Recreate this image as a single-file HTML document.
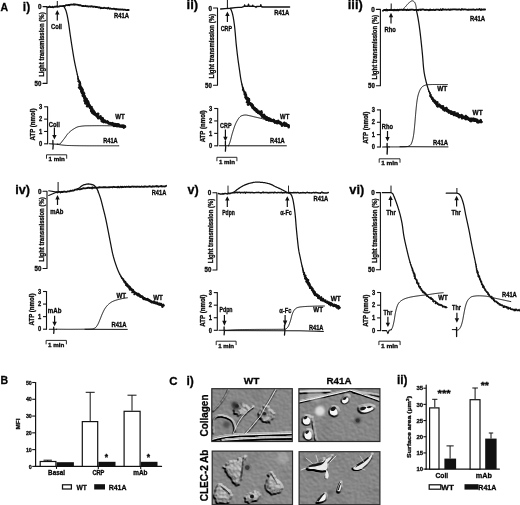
<!DOCTYPE html>
<html><head><meta charset="utf-8"><style>
html,body{margin:0;padding:0;background:#fff;}
svg{display:block;will-change:transform;}
text{font-family:"Liberation Sans", sans-serif;stroke:#111;stroke-width:0.32px;}
</style></head><body>
<svg width="520" height="505" viewBox="0 0 520 505">
<rect width="520" height="505" fill="#fff"/>
<defs><filter id="bl" x="-10%" y="-10%" width="120%" height="120%"><feGaussianBlur stdDeviation="0.4"/></filter><filter id="bl2" x="-50%" y="-50%" width="200%" height="200%"><feGaussianBlur stdDeviation="1.3"/></filter><filter id="dc1" filterUnits="userSpaceOnUse" x="211.8" y="388.7" width="80.5" height="52.8" color-interpolation-filters="sRGB">
<feGaussianBlur in="SourceAlpha" stdDeviation="0.7" result="h0"/>
<feTurbulence type="fractalNoise" baseFrequency="0.32" numOctaves="2" seed="3" result="n"/>
<feColorMatrix in="n" type="matrix" values="0 0 0 0 0  0 0 0 0 0  0 0 0 0 0  1 0 0 0 0" result="na"/>
<feComposite in="h0" in2="na" operator="arithmetic" k1="0.9" k2="0.75" k3="0.1" k4="0" result="h"/>
<feDiffuseLighting in="h" surfaceScale="2.0" diffuseConstant="1" lighting-color="#cacaca" result="lit"><feDistantLight azimuth="300" elevation="42"/></feDiffuseLighting>
<feTurbulence type="fractalNoise" baseFrequency="0.06" numOctaves="2" seed="10" result="m"/>
<feColorMatrix in="m" type="matrix" values="0.2 0 0 0 0.9  0.2 0 0 0 0.9  0.2 0 0 0 0.9  0 0 0 0 1" result="mg"/>
<feBlend in="lit" in2="mg" mode="multiply"/>
</filter><clipPath id="c1"><rect x="211.8" y="388.7" width="80.5" height="52.8"/></clipPath><filter id="dc2" filterUnits="userSpaceOnUse" x="298.9" y="388.7" width="81" height="52.8" color-interpolation-filters="sRGB">
<feGaussianBlur in="SourceAlpha" stdDeviation="0.7" result="h0"/>
<feTurbulence type="fractalNoise" baseFrequency="0.32" numOctaves="2" seed="5" result="n"/>
<feColorMatrix in="n" type="matrix" values="0 0 0 0 0  0 0 0 0 0  0 0 0 0 0  1 0 0 0 0" result="na"/>
<feComposite in="h0" in2="na" operator="arithmetic" k1="0.9" k2="0.75" k3="0.1" k4="0" result="h"/>
<feDiffuseLighting in="h" surfaceScale="2.0" diffuseConstant="1" lighting-color="#cacaca" result="lit"><feDistantLight azimuth="300" elevation="42"/></feDiffuseLighting>
<feTurbulence type="fractalNoise" baseFrequency="0.06" numOctaves="2" seed="12" result="m"/>
<feColorMatrix in="m" type="matrix" values="0.2 0 0 0 0.9  0.2 0 0 0 0.9  0.2 0 0 0 0.9  0 0 0 0 1" result="mg"/>
<feBlend in="lit" in2="mg" mode="multiply"/>
</filter><clipPath id="c2"><rect x="298.9" y="388.7" width="81" height="52.8"/></clipPath><filter id="dc3" filterUnits="userSpaceOnUse" x="212.2" y="451.1" width="80.3" height="53.6" color-interpolation-filters="sRGB">
<feGaussianBlur in="SourceAlpha" stdDeviation="0.7" result="h0"/>
<feTurbulence type="fractalNoise" baseFrequency="0.32" numOctaves="2" seed="8" result="n"/>
<feColorMatrix in="n" type="matrix" values="0 0 0 0 0  0 0 0 0 0  0 0 0 0 0  1 0 0 0 0" result="na"/>
<feComposite in="h0" in2="na" operator="arithmetic" k1="0.9" k2="0.75" k3="0.1" k4="0" result="h"/>
<feDiffuseLighting in="h" surfaceScale="2.0" diffuseConstant="1" lighting-color="#cecece" result="lit"><feDistantLight azimuth="300" elevation="42"/></feDiffuseLighting>
<feTurbulence type="fractalNoise" baseFrequency="0.06" numOctaves="2" seed="15" result="m"/>
<feColorMatrix in="m" type="matrix" values="0.2 0 0 0 0.9  0.2 0 0 0 0.9  0.2 0 0 0 0.9  0 0 0 0 1" result="mg"/>
<feBlend in="lit" in2="mg" mode="multiply"/>
</filter><clipPath id="c3"><rect x="212.2" y="451.1" width="80.3" height="53.6"/></clipPath><filter id="dc4" filterUnits="userSpaceOnUse" x="299.1" y="451.7" width="80.8" height="53" color-interpolation-filters="sRGB">
<feGaussianBlur in="SourceAlpha" stdDeviation="0.7" result="h0"/>
<feTurbulence type="fractalNoise" baseFrequency="0.32" numOctaves="2" seed="11" result="n"/>
<feColorMatrix in="n" type="matrix" values="0 0 0 0 0  0 0 0 0 0  0 0 0 0 0  1 0 0 0 0" result="na"/>
<feComposite in="h0" in2="na" operator="arithmetic" k1="0.9" k2="0.75" k3="0.1" k4="0" result="h"/>
<feDiffuseLighting in="h" surfaceScale="2.0" diffuseConstant="1" lighting-color="#cacaca" result="lit"><feDistantLight azimuth="300" elevation="42"/></feDiffuseLighting>
<feTurbulence type="fractalNoise" baseFrequency="0.06" numOctaves="2" seed="18" result="m"/>
<feColorMatrix in="m" type="matrix" values="0.2 0 0 0 0.9  0.2 0 0 0 0.9  0.2 0 0 0 0.9  0 0 0 0 1" result="mg"/>
<feBlend in="lit" in2="mg" mode="multiply"/>
</filter><clipPath id="c4"><rect x="299.1" y="451.7" width="80.8" height="53"/></clipPath></defs>
<text x="0.5" y="10.5" font-size="11.5" font-weight="bold" textLength="7.6" lengthAdjust="spacingAndGlyphs">A</text>
<text x="22.8" y="10.8" font-size="13" font-weight="bold" textLength="7.4" lengthAdjust="spacingAndGlyphs">i)</text>
<text x="186.6" y="9.2" font-size="13" font-weight="bold" textLength="11.6" lengthAdjust="spacingAndGlyphs">ii)</text>
<text x="347.8" y="9.2" font-size="13" font-weight="bold" textLength="15" lengthAdjust="spacingAndGlyphs">iii)</text>
<text x="15.2" y="194.4" font-size="13" font-weight="bold" textLength="14.8" lengthAdjust="spacingAndGlyphs">iv)</text>
<text x="187.4" y="194.4" font-size="13" font-weight="bold" textLength="11.2" lengthAdjust="spacingAndGlyphs">v)</text>
<text x="349.3" y="194.4" font-size="13" font-weight="bold" textLength="14.9" lengthAdjust="spacingAndGlyphs">vi)</text>
<polyline points="43,6.6 47,6.6 47,83.4 43,83.4" fill="none" stroke="#111" stroke-width="1.1" stroke-linejoin="round" stroke-linecap="round"/>
<text x="41.4" y="9.1" font-size="6.3" font-weight="bold" text-anchor="end">0</text>
<text x="41.4" y="85.6" font-size="6.3" font-weight="bold" text-anchor="end" textLength="6.8" lengthAdjust="spacingAndGlyphs">50</text>
<text x="43.6" y="44.6" font-size="6.8" font-weight="bold" text-anchor="middle" textLength="64.5" lengthAdjust="spacingAndGlyphs" transform="rotate(-90 43.6 44.6)">Light transmission (%)</text>
<polyline points="47.6,106.8 47.6,143.8" fill="none" stroke="#111" stroke-width="1.1" stroke-linejoin="round" stroke-linecap="round"/>
<line x1="44.1" y1="143.8" x2="47.6" y2="143.8" stroke="#111" stroke-width="1.1"/>
<text x="42.2" y="146" font-size="6.3" font-weight="bold" text-anchor="end" textLength="3.2" lengthAdjust="spacingAndGlyphs">0</text>
<line x1="44.1" y1="131.47" x2="47.6" y2="131.47" stroke="#111" stroke-width="1.1"/>
<text x="42.2" y="133.67" font-size="6.3" font-weight="bold" text-anchor="end" textLength="3.2" lengthAdjust="spacingAndGlyphs">1</text>
<line x1="44.1" y1="119.13" x2="47.6" y2="119.13" stroke="#111" stroke-width="1.1"/>
<text x="42.2" y="121.33" font-size="6.3" font-weight="bold" text-anchor="end" textLength="3.2" lengthAdjust="spacingAndGlyphs">2</text>
<line x1="44.1" y1="106.8" x2="47.6" y2="106.8" stroke="#111" stroke-width="1.1"/>
<text x="42.2" y="109" font-size="6.3" font-weight="bold" text-anchor="end" textLength="3.2" lengthAdjust="spacingAndGlyphs">3</text>
<text x="35.4" y="124.5" font-size="6.3" font-weight="bold" text-anchor="middle" textLength="32" lengthAdjust="spacingAndGlyphs" transform="rotate(-90 35.4 124.5)">ATP (nmol)</text>
<line x1="57.3" y1="1" x2="57.3" y2="7.5" stroke="#111" stroke-width="1.0"/>
<line x1="57.3" y1="13.9" x2="57.3" y2="20.6" stroke="#111" stroke-width="1.2"/>
<path d="M57.3,10 L55.1,14.4 L59.5,14.4Z" fill="#111"/>
<text x="56.5" y="29.3" font-size="6.7" font-weight="bold" text-anchor="middle" textLength="11" lengthAdjust="spacingAndGlyphs">Coll</text>
<polyline points="47.5,7.39 48.21,7.23 48.91,7.02 49.62,6.51 50.33,7.02 51.04,7.18 51.74,7.14 52.45,6.68 53.16,7.31 53.87,7.18 54.57,6.58 55.28,6.54 55.99,6.77 56.7,6.42 57.41,6.49 58.12,6.7 58.83,6.65 59.54,6.18 60.25,6.16 60.96,6.09 61.67,6.17 62.38,6.14 63.08,5.97 63.79,6.19 64.49,5.93 65.19,5.81 65.89,5.18 66.59,5.17 67.29,5.18 67.99,5.27 68.69,4.8 69.39,5.25 70.09,4.75 70.79,4.66 71.49,4.52 72.19,4.55 72.89,4.63 73.59,4.27 74.29,4.83 75,4.28 75.7,4.67 76.41,4.56 77.11,4.66 77.81,4.97 78.52,4.95 79.23,5.42 79.93,5 80.64,5.38 81.34,5.51 82.05,6.01 82.75,5.99 83.46,5.87 84.17,6.21 84.87,6.1 85.58,5.77 86.28,6.13 86.99,6.43 87.7,6.07 88.4,6.66 89.11,6.45 89.81,6.28 90.52,6.63 91.23,6.2 91.93,6.49 92.64,6.48 93.35,6.94 94.05,6.63 94.76,6.57 95.47,7.11 96.17,6.99 96.88,7 97.59,7.1 98.29,7.59 99,7.44 99.71,7.28 100.41,8.24 101.12,7.74 101.83,8.17 102.54,8.02 103.24,8.17 103.95,7.68 104.66,7.83 105.36,8.21 106.07,8.1 106.78,8.21 107.48,8.53 108.19,7.75 108.9,8.32 109.6,8.85 110.31,8.42 111.02,8.62 111.73,8.78 112.43,8.83 113.14,8.9 113.85,8.65 114.55,9.04 115.26,8.87 115.97,9.49 116.68,9.01 117.38,9.29 118.09,9.25 118.8,9.65 119.5,9.47 120.21,9.68 120.92,9.43 121.63,9.54 122.33,9.47 123.04,9.73 123.75,9.77 124.46,9.62 125.16,9.66 125.87,10.08 126.58,10.06 127.29,9.99 127.99,10 128.7,10.02" fill="none" stroke="#111" stroke-width="1.8" stroke-linejoin="round" stroke-linecap="round"/>
<text x="121.5" y="18.3" font-size="6.7" font-weight="bold" text-anchor="middle" textLength="15" lengthAdjust="spacingAndGlyphs">R41A</text>
<polyline points="63.8,6.3 64.16,6.92 64.5,7.54 64.84,8.17 65.16,8.8 65.46,9.44 65.73,10.08 65.98,10.73 66.19,11.39 66.39,12.06 66.57,12.73 66.74,13.41 66.91,14.09 67.07,14.78 67.21,15.47 67.36,16.16 67.49,16.86 67.62,17.56 67.75,18.26 67.88,18.95 68,19.65 68.12,20.35 68.24,21.04 68.36,21.73 68.47,22.43 68.58,23.12 68.69,23.82 68.79,24.51 68.89,25.21 68.99,25.91 69.09,26.61 69.19,27.3 69.28,28 69.37,28.7 69.47,29.4 69.56,30.1 69.65,30.8 69.75,31.49 69.84,32.19 69.94,32.89 70.04,33.59 70.14,34.28 70.24,34.98 70.34,35.68 70.45,36.37 70.55,37.07 70.65,37.77 70.76,38.46 70.86,39.16 70.97,39.86 71.07,40.55 71.18,41.25 71.28,41.95 71.39,42.64 71.49,43.34 71.6,44.03 71.71,44.73 71.82,45.43 71.92,46.12 72.03,46.82 72.14,47.51 72.25,48.21 72.36,48.9 72.48,49.6 72.59,50.29 72.7,50.99 72.81,51.69 72.92,52.38 73.03,53.08 73.15,53.77 73.26,54.47 73.37,55.16 73.49,55.86 73.61,56.55 73.73,57.25 73.85,57.94 73.97,58.63 74.09,59.33 74.22,60.02 74.35,60.71 74.48,61.4 74.61,62.09 74.75,62.78 74.89,63.47 75.03,64.16 75.17,64.85 75.32,65.54 75.47,66.23 75.62,66.92 75.77,67.61 75.92,68.29 76.07,68.98 76.23,69.67 76.38,70.36 76.53,71.04 76.68,71.73 76.84,72.42 76.99,73.11 77.15,73.79 77.31,74.48" fill="none" stroke="#111" stroke-width="1.25" stroke-linejoin="round" stroke-linecap="round"/>
<polyline points="77.31,74.48 77.37,74.83 77.43,75.17 77.57,75.5 77.64,75.84 77.74,76.18 77.74,76.54" fill="none" stroke="#111" stroke-width="1.25" stroke-linejoin="round" stroke-linecap="round"/>
<polyline points="77.74,76.54 77.88,76.87 77.87,77.23 77.99,77.56 77.91,77.94 78.22,78.23 78.18,78.6" fill="none" stroke="#111" stroke-width="1.47" stroke-linejoin="round" stroke-linecap="round"/>
<polyline points="78.18,78.6 78.02,79 78.13,79.34 78.46,79.62 78.46,79.98 78.77,80.26 78.85,80.6" fill="none" stroke="#111" stroke-width="1.68" stroke-linejoin="round" stroke-linecap="round"/>
<polyline points="78.85,80.6 78.18,81.14 78.64,81.38 79.51,81.51 79.06,82 79.47,82.25 79.97,82.48" fill="none" stroke="#111" stroke-width="1.9" stroke-linejoin="round" stroke-linecap="round"/>
<polyline points="79.97,82.48 79.72,82.91 79.71,83.28 80.07,83.54 80.29,83.84 79.82,84.34 79.58,84.77" fill="none" stroke="#111" stroke-width="2.12" stroke-linejoin="round" stroke-linecap="round"/>
<polyline points="79.58,84.77 80.12,84.98 79.52,85.53 80.06,85.73 80.01,86.11 80.57,86.31 80.28,86.77" fill="none" stroke="#111" stroke-width="2.34" stroke-linejoin="round" stroke-linecap="round"/>
<polyline points="80.28,86.77 79.07,87.52 80.86,87.32 81.28,87.55 80.79,88.08 80.95,88.4 80.62,88.88" fill="none" stroke="#111" stroke-width="2.56" stroke-linejoin="round" stroke-linecap="round"/>
<polyline points="80.62,88.88 81.98,88.79 81.77,89.23 81.97,89.53 82.56,89.69 81.71,90.36 81.62,90.77" fill="none" stroke="#111" stroke-width="2.7" stroke-linejoin="round" stroke-linecap="round"/>
<polyline points="81.62,90.77 82.4,90.86 81.43,91.6 81.84,91.82 82.07,92.11 82.31,92.39 82.16,92.83" fill="none" stroke="#111" stroke-width="2.7" stroke-linejoin="round" stroke-linecap="round"/>
<polyline points="82.16,92.83 83.46,92.69 82.6,93.41 82.73,93.74 84.07,93.56 83.13,94.33 83.57,94.53" fill="none" stroke="#111" stroke-width="2.7" stroke-linejoin="round" stroke-linecap="round"/>
<polyline points="83.57,94.53 83.19,95.07 82.84,95.61 83.87,95.54 83.84,95.95 84.59,95.99 84,96.65" fill="none" stroke="#111" stroke-width="2.7" stroke-linejoin="round" stroke-linecap="round"/>
<polyline points="84,96.65 84.5,96.8 84.36,97.26 85.01,97.33 84.37,98.04 84.77,98.23 85.31,98.35" fill="none" stroke="#111" stroke-width="2.7" stroke-linejoin="round" stroke-linecap="round"/>
<polyline points="85.31,98.35 85.07,98.87 86,98.78 84.83,99.79 86.63,99.24 84.54,100.75 85.97,100.38" fill="none" stroke="#111" stroke-width="2.7" stroke-linejoin="round" stroke-linecap="round"/>
<polyline points="85.97,100.38 86.41,100.55 87.02,100.62 86.09,101.52 87.48,101.16 86.76,101.95 85.52,103.04" fill="none" stroke="#111" stroke-width="2.7" stroke-linejoin="round" stroke-linecap="round"/>
<polyline points="85.52,103.04 88.15,101.99 87.69,102.64 88.35,102.68 87.77,103.4 87.33,104.05 88.31,103.91" fill="none" stroke="#111" stroke-width="2.7" stroke-linejoin="round" stroke-linecap="round"/>
<polyline points="88.31,103.91 88.19,104.37 88.84,104.42 88.39,105.06 87.08,106.19 88.87,105.6 89.6,105.6" fill="none" stroke="#111" stroke-width="2.7" stroke-linejoin="round" stroke-linecap="round"/>
<polyline points="89.6,105.6 89.27,106.18 89.59,106.4 89.86,106.66 90.29,106.81 89.93,107.43 90.15,107.71" fill="none" stroke="#111" stroke-width="2.7" stroke-linejoin="round" stroke-linecap="round"/>
<polyline points="90.15,107.71 91.55,107.26 90.76,108.15 91.44,108.14 91.26,108.66 91.68,108.8 91.51,109.33" fill="none" stroke="#111" stroke-width="2.7" stroke-linejoin="round" stroke-linecap="round"/>
<polyline points="91.51,109.33 92.27,109.23 91.23,110.4 91.8,110.43 91.33,111.24 92.44,110.83 92.88,110.92" fill="none" stroke="#111" stroke-width="2.7" stroke-linejoin="round" stroke-linecap="round"/>
<polyline points="92.88,110.92 93.52,110.85 92.57,112.09 92.29,112.82 93.93,111.85 94.09,112.17 93.82,112.89" fill="none" stroke="#111" stroke-width="2.7" stroke-linejoin="round" stroke-linecap="round"/>
<polyline points="93.82,112.89 94.63,112.61 93.78,113.92 94.92,113.3 94.96,113.76 94.86,114.36 95.53,114.18" fill="none" stroke="#111" stroke-width="2.7" stroke-linejoin="round" stroke-linecap="round"/>
<polyline points="95.53,114.18 95.44,114.78 96.2,114.49 97,114.14 97.35,114.26 98.16,113.87 96.79,115.93" fill="none" stroke="#111" stroke-width="2.7" stroke-linejoin="round" stroke-linecap="round"/>
<polyline points="96.79,115.93 97.56,115.59 97.41,116.3 97.69,116.52 97.68,117.07 98.14,117.08 98.34,117.39" fill="none" stroke="#111" stroke-width="2.7" stroke-linejoin="round" stroke-linecap="round"/>
<polyline points="98.34,117.39 98.25,118.07 99.48,117.1 100.51,116.35 99.95,117.62 100.45,117.56 100.53,118.02" fill="none" stroke="#111" stroke-width="2.7" stroke-linejoin="round" stroke-linecap="round"/>
<polyline points="100.53,118.02 100.65,118.43 100.82,118.79 101.3,118.74 102.09,118.24 101.78,119.27 102.66,118.61" fill="none" stroke="#111" stroke-width="2.7" stroke-linejoin="round" stroke-linecap="round"/>
<polyline points="102.66,118.61 102,120.19 101.78,121.17 103.11,119.79 103.43,119.94 102.93,121.41 103.6,121" fill="none" stroke="#111" stroke-width="2.7" stroke-linejoin="round" stroke-linecap="round"/>
<polyline points="103.6,121 103.61,121.7 103.85,122.02 104.94,120.77 104.94,121.52 105.24,121.72 105.53,121.92" fill="none" stroke="#111" stroke-width="2.7" stroke-linejoin="round" stroke-linecap="round"/>
<polyline points="105.53,121.92 105.86,122.06 106.26,122.04 106.59,122.16 107.26,121.44 107.31,122.25 107.75,122.08" fill="none" stroke="#111" stroke-width="2.7" stroke-linejoin="round" stroke-linecap="round"/>
<polyline points="107.75,122.08 107.9,122.66 108.34,122.47 108.47,123.15 108.77,123.37 109.2,123.22 109.53,123.33" fill="none" stroke="#111" stroke-width="2.7" stroke-linejoin="round" stroke-linecap="round"/>
<polyline points="109.53,123.33 109.9,123.32 110.33,123.15 110.61,123.4 111,123.33 111.2,123.89 111.59,123.79" fill="none" stroke="#111" stroke-width="2.7" stroke-linejoin="round" stroke-linecap="round"/>
<polyline points="111.59,123.79 111.85,124.19 112.47,123.28 112.48,124.54 113.06,123.76 113.39,123.87 113.65,124.25" fill="none" stroke="#111" stroke-width="2.7" stroke-linejoin="round" stroke-linecap="round"/>
<polyline points="113.65,124.25 114.04,124.14 113.95,125.86 114.72,124.32 115.13,124.14 115.43,124.35 115.49,125.59" fill="none" stroke="#111" stroke-width="2.7" stroke-linejoin="round" stroke-linecap="round"/>
<polyline points="115.49,125.59 115.99,124.99 116.49,124.43 116.68,125.14 117.21,124.37 117.16,126.25 117.88,124.53" fill="none" stroke="#111" stroke-width="2.7" stroke-linejoin="round" stroke-linecap="round"/>
<polyline points="117.88,124.53 118,125.68 118.34,125.79 118.88,124.77 119.06,125.78 119.35,126.21 119.74,125.98" fill="none" stroke="#111" stroke-width="2.7" stroke-linejoin="round" stroke-linecap="round"/>
<polyline points="119.74,125.98 120.11,125.93 120.39,126.36 120.81,125.98 121.14,126.13 121.53,125.93 121.82,126.39" fill="none" stroke="#111" stroke-width="2.7" stroke-linejoin="round" stroke-linecap="round"/>
<polyline points="121.82,126.39 122.28,125.58 122.5,126.57 122.94,125.91 123.32,125.63 123.58,126.46 123.86,127.23" fill="none" stroke="#111" stroke-width="2.7" stroke-linejoin="round" stroke-linecap="round"/>
<polyline points="123.86,127.23 124.25,126.86 124.68,126.09 124.97,126.78" fill="none" stroke="#111" stroke-width="2.7" stroke-linejoin="round" stroke-linecap="round"/>
<text x="120" y="119" font-size="6.7" font-weight="bold" text-anchor="middle" textLength="9.5" lengthAdjust="spacingAndGlyphs">WT</text>
<polyline points="49.2,143.7 57.3,144.2" fill="none" stroke="#111" stroke-width="1.1" stroke-linejoin="round" stroke-linecap="round"/>
<polyline points="52.9,140.5 52.9,144 53.2,145 52.9,149" fill="none" stroke="#111" stroke-width="1.3" stroke-linejoin="round" stroke-linecap="round"/>
<polyline points="57.3,144.2 58.05,144.2 58.74,144.2 59.34,144.12 59.91,143.86 60.45,143.45 60.97,142.93 61.46,142.33 61.95,141.68 62.42,141.02 62.89,140.37 63.35,139.77 63.81,139.23 64.26,138.67 64.68,138.1 65.1,137.51 65.51,136.92 65.91,136.32 66.32,135.73 66.74,135.15 67.17,134.58 67.62,134.04 68.09,133.51 68.58,133.01 69.09,132.5 69.61,132.01 70.15,131.53 70.7,131.06 71.27,130.61 71.84,130.19 72.42,129.78 73.01,129.4 73.61,129.02 74.23,128.63 74.86,128.25 75.49,127.88 76.14,127.54 76.8,127.23 77.46,126.97 78.13,126.75 78.8,126.6 79.48,126.48 80.17,126.37 80.87,126.27 81.58,126.17 82.29,126.08 83.01,126.01 83.73,125.94 84.45,125.89 85.17,125.84 85.89,125.81 86.6,125.8 87.32,125.79 88.03,125.78 88.74,125.77 89.45,125.76 90.17,125.75 90.88,125.75 91.59,125.74 92.31,125.73 93.02,125.73 93.74,125.72 94.45,125.72 95.16,125.71 95.88,125.71 96.59,125.71 97.31,125.7 98.02,125.7 98.73,125.7 99.45,125.7 100.16,125.7 100.88,125.7 101.59,125.7 102.3,125.7 103.02,125.71 103.73,125.71 104.44,125.71 105.16,125.72 105.87,125.72 106.58,125.73 107.3,125.73 108.01,125.74 108.72,125.75 109.44,125.76 110.15,125.76 110.86,125.77 111.58,125.78 112.29,125.79 113.01,125.81 113.72,125.82 114.43,125.83 115.15,125.84 115.86,125.86 116.57,125.87 117.29,125.88 118,125.9" fill="none" stroke="#111" stroke-width="1.0" stroke-linejoin="round" stroke-linecap="round"/>
<polyline points="57.3,144.2 58,144.34 58.71,144.48 59.41,144.61 60.12,144.74 60.83,144.85 61.53,144.94 62.24,145.03 62.95,145.11 63.67,145.18 64.38,145.25 65.09,145.32 65.81,145.38 66.52,145.43 67.24,145.47 67.95,145.5 68.67,145.52 69.38,145.53 70.1,145.55 70.81,145.57 71.53,145.59 72.25,145.6 72.96,145.62 73.68,145.63 74.39,145.65 75.11,145.66 75.83,145.67 76.54,145.69 77.26,145.7 77.97,145.71 78.69,145.72 79.41,145.73 80.12,145.74 80.84,145.75 81.56,145.75 82.27,145.76 82.99,145.77 83.71,145.77 84.42,145.78 85.14,145.78 85.86,145.79 86.57,145.79 87.29,145.8 88,145.8 88.72,145.8 89.44,145.8 90.15,145.8 90.87,145.8 91.59,145.8 92.3,145.8 93.02,145.8 93.73,145.8 94.45,145.8 95.17,145.8 95.88,145.8 96.6,145.8 97.31,145.8 98.03,145.8 98.75,145.8 99.46,145.8 100.18,145.8 100.9,145.8 101.61,145.8 102.33,145.8 103.04,145.8 103.76,145.8 104.48,145.8 105.19,145.8 105.91,145.8 106.62,145.8 107.34,145.8 108.06,145.8 108.77,145.8 109.49,145.8 110.21,145.8 110.92,145.8 111.64,145.8 112.35,145.8 113.07,145.8 113.79,145.8 114.5,145.8 115.22,145.8 115.94,145.8 116.65,145.8 117.37,145.8 118.08,145.8 118.8,145.8" fill="none" stroke="#111" stroke-width="1.0" stroke-linejoin="round" stroke-linecap="round"/>
<line x1="54.4" y1="127.5" x2="54.4" y2="135.6" stroke="#111" stroke-width="1.2"/>
<path d="M54.4,139.5 L52.2,135.1 L56.6,135.1Z" fill="#111"/>
<text x="54.3" y="126.8" font-size="6.7" font-weight="bold" text-anchor="middle" textLength="11" lengthAdjust="spacingAndGlyphs">Coll</text>
<text x="110.4" y="143.3" font-size="6.7" font-weight="bold" text-anchor="middle" textLength="14.5" lengthAdjust="spacingAndGlyphs">R41A</text>
<polyline points="46.5,158.3 46.5,154.8 66.7,154.8 66.7,158.3" fill="none" stroke="#111" stroke-width="0.9" stroke-linejoin="round" stroke-linecap="round"/>
<text x="56.6" y="161.4" font-size="5.8" font-weight="bold" text-anchor="middle" textLength="16.2" lengthAdjust="spacingAndGlyphs">1 min</text>
<polyline points="213.5,8 217.5,8 217.5,85.3 213.5,85.3" fill="none" stroke="#111" stroke-width="1.1" stroke-linejoin="round" stroke-linecap="round"/>
<text x="211.9" y="10.5" font-size="6.3" font-weight="bold" text-anchor="end">0</text>
<text x="211.9" y="87.5" font-size="6.3" font-weight="bold" text-anchor="end" textLength="6.8" lengthAdjust="spacingAndGlyphs">50</text>
<text x="214.1" y="46.25" font-size="6.8" font-weight="bold" text-anchor="middle" textLength="64.5" lengthAdjust="spacingAndGlyphs" transform="rotate(-90 214.1 46.25)">Light transmission (%)</text>
<polyline points="217.7,108.5 217.7,145.8" fill="none" stroke="#111" stroke-width="1.1" stroke-linejoin="round" stroke-linecap="round"/>
<line x1="214.2" y1="145.8" x2="217.7" y2="145.8" stroke="#111" stroke-width="1.1"/>
<text x="212.3" y="148" font-size="6.3" font-weight="bold" text-anchor="end" textLength="3.2" lengthAdjust="spacingAndGlyphs">0</text>
<line x1="214.2" y1="133.37" x2="217.7" y2="133.37" stroke="#111" stroke-width="1.1"/>
<text x="212.3" y="135.57" font-size="6.3" font-weight="bold" text-anchor="end" textLength="3.2" lengthAdjust="spacingAndGlyphs">1</text>
<line x1="214.2" y1="120.93" x2="217.7" y2="120.93" stroke="#111" stroke-width="1.1"/>
<text x="212.3" y="123.13" font-size="6.3" font-weight="bold" text-anchor="end" textLength="3.2" lengthAdjust="spacingAndGlyphs">2</text>
<line x1="214.2" y1="108.5" x2="217.7" y2="108.5" stroke="#111" stroke-width="1.1"/>
<text x="212.3" y="110.7" font-size="6.3" font-weight="bold" text-anchor="end" textLength="3.2" lengthAdjust="spacingAndGlyphs">3</text>
<text x="205.5" y="126.35" font-size="6.3" font-weight="bold" text-anchor="middle" textLength="32" lengthAdjust="spacingAndGlyphs" transform="rotate(-90 205.5 126.35)">ATP (nmol)</text>
<line x1="227.4" y1="0" x2="227.4" y2="8.5" stroke="#111" stroke-width="1.0"/>
<line x1="227.4" y1="15.4" x2="227.4" y2="22" stroke="#111" stroke-width="1.2"/>
<path d="M227.4,11.5 L225.2,15.9 L229.6,15.9Z" fill="#111"/>
<text x="226.4" y="31.1" font-size="6.7" font-weight="bold" text-anchor="middle" textLength="11.4" lengthAdjust="spacingAndGlyphs">CRP</text>
<polyline points="220.7,9 225,8.6 230.4,8.3 235,7.6 238.5,7.4 242,7.2 243.5,6.6 244.3,6.2 244.6,4.9 245,6.2 248,6.2 248.5,4.2 249,6.2 252.5,6.3 252.8,5.2 253.3,6.3 255.5,6.6 256,7.4 256.5,6.5 260.5,6.4 260.8,4.6 261.3,6.5 262.5,7 275,7 289.6,7" fill="none" stroke="#111" stroke-width="1.4" stroke-linejoin="round" stroke-linecap="round"/>
<text x="281.7" y="15" font-size="6.7" font-weight="bold" text-anchor="middle" textLength="15" lengthAdjust="spacingAndGlyphs">R41A</text>
<polyline points="230.4,8.3 230.69,8.95 230.99,9.6 231.27,10.25 231.54,10.91 231.79,11.57 232.02,12.23 232.23,12.9 232.42,13.57 232.58,14.25 232.74,14.93 232.89,15.61 233.04,16.3 233.17,16.99 233.31,17.69 233.43,18.38 233.55,19.08 233.67,19.78 233.78,20.48 233.88,21.18 233.98,21.89 234.08,22.59 234.18,23.29 234.27,23.99 234.36,24.69 234.45,25.39 234.53,26.09 234.61,26.79 234.69,27.49 234.77,28.19 234.84,28.89 234.91,29.59 234.98,30.29 235.05,30.99 235.11,31.7 235.18,32.4 235.24,33.1 235.3,33.81 235.36,34.51 235.42,35.21 235.48,35.92 235.54,36.62 235.6,37.32 235.66,38.03 235.72,38.73 235.78,39.43 235.84,40.14 235.9,40.84 235.96,41.54 236.03,42.25 236.09,42.95 236.16,43.65 236.23,44.35 236.31,45.06 236.38,45.76 236.45,46.46 236.53,47.16 236.61,47.86 236.68,48.56 236.76,49.26 236.84,49.96 236.92,50.67 237,51.37 237.08,52.07 237.16,52.77 237.24,53.47 237.33,54.17 237.41,54.87 237.5,55.57 237.58,56.27 237.67,56.97 237.76,57.67 237.85,58.37 237.94,59.07 238.03,59.77 238.13,60.47 238.22,61.17 238.32,61.87 238.42,62.56 238.52,63.26 238.62,63.96 238.72,64.66 238.82,65.36 238.92,66.06 239.02,66.75 239.13,67.45 239.23,68.15 239.33,68.85 239.43,69.55 239.54,70.24 239.64,70.94 239.73,71.64 239.83,72.34 239.93,73.04 240.02,73.74 240.12,74.44 240.22,75.14 240.32,75.84 240.43,76.53 240.53,77.23 240.64,77.93 240.76,78.62 240.88,79.32 241,80.01 241.13,80.7 241.27,81.39 241.41,82.09 241.56,82.78 241.71,83.47 241.87,84.16" fill="none" stroke="#111" stroke-width="1.25" stroke-linejoin="round" stroke-linecap="round"/>
<polyline points="241.87,84.16 241.93,84.5 242.01,84.85 242.08,85.19 242.11,85.55 242.36,85.84 242.42,86.19" fill="none" stroke="#111" stroke-width="1.25" stroke-linejoin="round" stroke-linecap="round"/>
<polyline points="242.42,86.19 242.58,86.51 242.56,86.88 242.52,87.25 242.74,87.56 242.76,87.92 243.23,88.15" fill="none" stroke="#111" stroke-width="1.45" stroke-linejoin="round" stroke-linecap="round"/>
<polyline points="243.23,88.15 243,88.58 243.29,88.86 242.88,89.35 242.69,89.79 243.23,89.98 243.57,90.24" fill="none" stroke="#111" stroke-width="1.66" stroke-linejoin="round" stroke-linecap="round"/>
<polyline points="243.57,90.24 243.52,90.63 243.62,90.97 244,91.2 244.17,91.51 244.19,91.88 244.46,92.15" fill="none" stroke="#111" stroke-width="1.86" stroke-linejoin="round" stroke-linecap="round"/>
<polyline points="244.46,92.15 244.6,92.48 245.36,92.55 244.91,93.1 244.52,93.64 245.52,93.61 244.75,94.31" fill="none" stroke="#111" stroke-width="2.06" stroke-linejoin="round" stroke-linecap="round"/>
<polyline points="244.75,94.31 245.44,94.4 245.55,94.74 246.03,94.92 245.66,95.45 245.84,95.75 245.78,96.16" fill="none" stroke="#111" stroke-width="2.26" stroke-linejoin="round" stroke-linecap="round"/>
<polyline points="245.78,96.16 246.26,96.34 246.1,96.79 245.4,97.48 246.23,97.5 246.86,97.6 246.25,98.27" fill="none" stroke="#111" stroke-width="2.46" stroke-linejoin="round" stroke-linecap="round"/>
<polyline points="246.25,98.27 246.94,98.34 247.82,98.29 246.88,99.15 247.53,99.21 248.44,99.12 248.9,99.25" fill="none" stroke="#111" stroke-width="2.6" stroke-linejoin="round" stroke-linecap="round"/>
<polyline points="248.9,99.25 247.58,100.39 248.2,100.43 249.02,100.32 246.95,102.11 248.84,101.25 248.26,102.1" fill="none" stroke="#111" stroke-width="2.6" stroke-linejoin="round" stroke-linecap="round"/>
<polyline points="248.26,102.1 248.3,102.52 248.76,102.63 248.94,102.94 249.19,103.19 247.98,104.62 250.03,103.42" fill="none" stroke="#111" stroke-width="2.6" stroke-linejoin="round" stroke-linecap="round"/>
<polyline points="250.03,103.42 250.32,103.63 250.28,104.11 251.16,103.88 251.66,103.95 251.57,104.46 251.22,105.15" fill="none" stroke="#111" stroke-width="2.6" stroke-linejoin="round" stroke-linecap="round"/>
<polyline points="251.22,105.15 251.38,105.47 252.49,105.12 252.84,105.3 252.33,106.08 252.48,106.41 252.62,106.74" fill="none" stroke="#111" stroke-width="2.6" stroke-linejoin="round" stroke-linecap="round"/>
<polyline points="252.62,106.74 252.51,107.26 252.47,107.73 253.13,107.68 253.19,108.09 254.13,107.74 254.38,107.96" fill="none" stroke="#111" stroke-width="2.6" stroke-linejoin="round" stroke-linecap="round"/>
<polyline points="254.38,107.96 254.06,108.75 254.15,109.17 255.2,108.55 254.7,109.62 254.9,109.94 255.94,109.24" fill="none" stroke="#111" stroke-width="2.6" stroke-linejoin="round" stroke-linecap="round"/>
<polyline points="255.94,109.24 256.33,109.3 256.25,109.95 256.12,110.69 256.36,110.96 257.34,110.25 256.73,111.64" fill="none" stroke="#111" stroke-width="2.6" stroke-linejoin="round" stroke-linecap="round"/>
<polyline points="256.73,111.64 257.54,111.15 257.75,111.45 257.86,111.88 257.97,112.31 259,111.59 258.43,112.84" fill="none" stroke="#111" stroke-width="2.6" stroke-linejoin="round" stroke-linecap="round"/>
<polyline points="258.43,112.84 259.02,112.68 259.59,112.55 259.68,112.98 261.4,111.47 260.35,113.28 260.33,113.85" fill="none" stroke="#111" stroke-width="2.6" stroke-linejoin="round" stroke-linecap="round"/>
<polyline points="260.33,113.85 261.68,112.77 261.05,114.08 261.26,114.38 261.46,114.68 261.41,115.32 262.04,115.08" fill="none" stroke="#111" stroke-width="2.6" stroke-linejoin="round" stroke-linecap="round"/>
<polyline points="262.04,115.08 262.4,115.19 262.42,115.75 262.23,116.65 263.96,114.76 263.3,116.35 264.23,115.59" fill="none" stroke="#111" stroke-width="2.6" stroke-linejoin="round" stroke-linecap="round"/>
<polyline points="264.23,115.59 263.64,117.12 264.14,117 264.24,117.5 264.31,118.07 265.53,116.76 265.28,117.85" fill="none" stroke="#111" stroke-width="2.6" stroke-linejoin="round" stroke-linecap="round"/>
<polyline points="265.28,117.85 265.62,117.97 266.38,117.38 266.84,117.26 266.63,118.35 267.1,118.22 266.69,119.74" fill="none" stroke="#111" stroke-width="2.6" stroke-linejoin="round" stroke-linecap="round"/>
<polyline points="266.69,119.74 267.27,119.41 268.12,118.54 268.33,118.9 269.02,118.29 269.15,118.82 268.86,120.23" fill="none" stroke="#111" stroke-width="2.6" stroke-linejoin="round" stroke-linecap="round"/>
<polyline points="268.86,120.23 269.6,119.5 270.03,119.41 270.49,119.22 270.4,120.29 270.7,120.47 271.12,120.41" fill="none" stroke="#111" stroke-width="2.6" stroke-linejoin="round" stroke-linecap="round"/>
<polyline points="271.12,120.41 271.58,120.22 271.75,120.71 272.06,120.88 272.61,120.47 273.11,120.14 273.54,119.98" fill="none" stroke="#111" stroke-width="2.6" stroke-linejoin="round" stroke-linecap="round"/>
<polyline points="273.54,119.98 273.7,120.53 273.84,121.16 274.13,121.38 274.65,120.96 274.71,121.85 274.91,122.34" fill="none" stroke="#111" stroke-width="2.6" stroke-linejoin="round" stroke-linecap="round"/>
<polyline points="274.91,122.34 275.35,122.14 275.73,122.13 276.33,121.41 276.37,122.45 276.96,121.74 277.14,122.34" fill="none" stroke="#111" stroke-width="2.6" stroke-linejoin="round" stroke-linecap="round"/>
<polyline points="277.14,122.34 277.23,123.23 278.31,120.9 278.1,122.79 278.51,122.65 278.92,122.48 279.27,122.52" fill="none" stroke="#111" stroke-width="2.6" stroke-linejoin="round" stroke-linecap="round"/>
<polyline points="279.27,122.52 279.44,123.2 280.08,122.24 280.09,123.5 280.68,122.66 280.85,123.37 281.1,123.8" fill="none" stroke="#111" stroke-width="2.6" stroke-linejoin="round" stroke-linecap="round"/>
<polyline points="281.1,123.8 281.35,124.21 281.73,124.16 282.05,124.33 282.05,125.73 282.73,124.51 283.3,123.72" fill="none" stroke="#111" stroke-width="2.6" stroke-linejoin="round" stroke-linecap="round"/>
<polyline points="283.3,123.72 283.52,124.27 284.26,122.77 284.52,123.14 284.77,123.6 284.62,125.7 285.37,124.07" fill="none" stroke="#111" stroke-width="2.6" stroke-linejoin="round" stroke-linecap="round"/>
<polyline points="285.37,124.07 285.86,123.54 285.99,124.51 286.07,125.72 286.6,124.96 286.89,125.28 287.31,124.99" fill="none" stroke="#111" stroke-width="2.6" stroke-linejoin="round" stroke-linecap="round"/>
<polyline points="287.31,124.99 287.64,125.17 287.82,125.97 288.22,125.79 288.67,125.38 288.66,127.17" fill="none" stroke="#111" stroke-width="2.6" stroke-linejoin="round" stroke-linecap="round"/>
<text x="284.7" y="119.4" font-size="6.7" font-weight="bold" text-anchor="middle" textLength="9.2" lengthAdjust="spacingAndGlyphs">WT</text>
<polyline points="219.3,145.7 228.5,145.8" fill="none" stroke="#111" stroke-width="1.1" stroke-linejoin="round" stroke-linecap="round"/>
<polyline points="225.4,141.5 225.4,145.5 225.7,146.5 225.4,151.2" fill="none" stroke="#111" stroke-width="1.3" stroke-linejoin="round" stroke-linecap="round"/>
<polyline points="228.5,145.8 228.78,145.15 229.06,144.49 229.33,143.84 229.58,143.17 229.83,142.51 230.05,141.84 230.26,141.17 230.46,140.49 230.65,139.8 230.83,139.12 231,138.43 231.17,137.74 231.34,137.05 231.51,136.36 231.69,135.67 231.87,134.98 232.06,134.3 232.26,133.62 232.47,132.95 232.68,132.26 232.89,131.58 233.1,130.89 233.32,130.2 233.54,129.51 233.76,128.82 233.98,128.14 234.21,127.45 234.45,126.77 234.69,126.1 234.95,125.43 235.21,124.77 235.48,124.12 235.76,123.48 236.05,122.84 236.35,122.23 236.67,121.62 237,121.02 237.36,120.4 237.74,119.76 238.15,119.11 238.59,118.47 239.05,117.86 239.53,117.29 240.04,116.77 240.56,116.33 241.1,115.98 241.67,115.74 242.3,115.52 242.99,115.33 243.71,115.17 244.45,115.05 245.17,115 245.87,115.02 246.57,115.09 247.27,115.21 247.97,115.35 248.67,115.51 249.37,115.67 250.06,115.81 250.75,115.96 251.45,116.12 252.13,116.29 252.82,116.46 253.51,116.63 254.2,116.81 254.89,116.97 255.58,117.13 256.27,117.29 256.96,117.45 257.65,117.6 258.35,117.75 259.04,117.91 259.73,118.06 260.42,118.22 261.11,118.38 261.8,118.55 262.49,118.72 263.17,118.9 263.86,119.09 264.54,119.28 265.22,119.48 265.9,119.68 266.58,119.87 267.27,120.07 267.95,120.26 268.63,120.45 269.32,120.63 270,120.8 270.69,120.97 271.38,121.13 272.07,121.29 272.77,121.44 273.46,121.6 274.15,121.75 274.84,121.9 275.54,122.04 276.23,122.19 276.93,122.34 277.62,122.48 278.31,122.63 279.01,122.78 279.7,122.93 280.39,123.09 281.08,123.24 281.78,123.4 282.47,123.55 283.16,123.71 283.85,123.86 284.54,124.02 285.23,124.17 285.93,124.33 286.62,124.49 287.31,124.64 288,124.8" fill="none" stroke="#111" stroke-width="1.0" stroke-linejoin="round" stroke-linecap="round"/>
<polyline points="228.5,145.8 286.4,145.8" fill="none" stroke="#111" stroke-width="1.0" stroke-linejoin="round" stroke-linecap="round"/>
<line x1="225.4" y1="129.6" x2="225.4" y2="137.3" stroke="#111" stroke-width="1.2"/>
<path d="M225.4,141.2 L223.2,136.8 L227.6,136.8Z" fill="#111"/>
<text x="225.8" y="128.1" font-size="6.7" font-weight="bold" text-anchor="middle" textLength="11.4" lengthAdjust="spacingAndGlyphs">CRP</text>
<text x="277.4" y="143.3" font-size="6.7" font-weight="bold" text-anchor="middle" textLength="14.8" lengthAdjust="spacingAndGlyphs">R41A</text>
<polyline points="216.9,160.8 216.9,157.3 236.9,157.3 236.9,160.8" fill="none" stroke="#111" stroke-width="0.9" stroke-linejoin="round" stroke-linecap="round"/>
<text x="226.9" y="163.6" font-size="5.8" font-weight="bold" text-anchor="middle" textLength="16" lengthAdjust="spacingAndGlyphs">1 min</text>
<polyline points="376.4,9.4 380.4,9.4 380.4,85.8 376.4,85.8" fill="none" stroke="#111" stroke-width="1.1" stroke-linejoin="round" stroke-linecap="round"/>
<text x="374.8" y="11.9" font-size="6.3" font-weight="bold" text-anchor="end">0</text>
<text x="374.8" y="88" font-size="6.3" font-weight="bold" text-anchor="end" textLength="6.8" lengthAdjust="spacingAndGlyphs">50</text>
<text x="377" y="47.2" font-size="6.8" font-weight="bold" text-anchor="middle" textLength="64.5" lengthAdjust="spacingAndGlyphs" transform="rotate(-90 377 47.2)">Light transmission (%)</text>
<polyline points="380.4,109.9 380.4,147" fill="none" stroke="#111" stroke-width="1.1" stroke-linejoin="round" stroke-linecap="round"/>
<line x1="376.9" y1="147" x2="380.4" y2="147" stroke="#111" stroke-width="1.1"/>
<text x="375" y="149.2" font-size="6.3" font-weight="bold" text-anchor="end" textLength="3.2" lengthAdjust="spacingAndGlyphs">0</text>
<line x1="376.9" y1="134.63" x2="380.4" y2="134.63" stroke="#111" stroke-width="1.1"/>
<text x="375" y="136.83" font-size="6.3" font-weight="bold" text-anchor="end" textLength="3.2" lengthAdjust="spacingAndGlyphs">1</text>
<line x1="376.9" y1="122.27" x2="380.4" y2="122.27" stroke="#111" stroke-width="1.1"/>
<text x="375" y="124.47" font-size="6.3" font-weight="bold" text-anchor="end" textLength="3.2" lengthAdjust="spacingAndGlyphs">2</text>
<line x1="376.9" y1="109.9" x2="380.4" y2="109.9" stroke="#111" stroke-width="1.1"/>
<text x="375" y="112.1" font-size="6.3" font-weight="bold" text-anchor="end" textLength="3.2" lengthAdjust="spacingAndGlyphs">3</text>
<text x="368.2" y="127.65" font-size="6.3" font-weight="bold" text-anchor="middle" textLength="32" lengthAdjust="spacingAndGlyphs" transform="rotate(-90 368.2 127.65)">ATP (nmol)</text>
<line x1="391.2" y1="3.5" x2="391.2" y2="10.5" stroke="#111" stroke-width="1.0"/>
<line x1="391" y1="16.7" x2="391" y2="23.4" stroke="#111" stroke-width="1.2"/>
<path d="M391,12.8 L388.8,17.2 L393.2,17.2Z" fill="#111"/>
<text x="390.2" y="31.8" font-size="6.7" font-weight="bold" text-anchor="middle" textLength="11.4" lengthAdjust="spacingAndGlyphs">Rho</text>
<polyline points="382.9,10.69 383.6,10.28 384.31,9.88 385.01,10 385.72,10.4 386.42,9.47 387.13,10.46 387.83,9.99 388.54,10.21 389.24,9.82 389.95,10.17 390.65,9.7 391.36,10.17 392.06,9.91 392.77,10.11 393.47,10.41 394.18,9.72 394.88,10.38 395.59,10.01 396.29,9.97 397,10.37 397.7,9.64 398.41,10.38 399.11,9.96 399.82,9.7 400.52,9.83 401.23,9.71 401.93,9.65 402.63,10 403.34,9.98 404.04,9.9 404.75,9.5 405.45,9.95 406.16,10 406.86,10.24 407.57,9.52 408.27,10.03 408.98,10.15 409.68,9.61 410.39,9.77 411.09,9.76 411.8,9.52 412.5,9.66 413.21,9.74 413.91,10 414.62,10.09 415.32,9.89 416.03,9.89 416.73,10.05 417.44,9.89 418.14,10.26 418.85,9.73 419.55,9.61 420.26,10.06 420.96,9.4 421.67,9.94 422.37,9.31 423.07,9.43 423.78,9.56 424.48,9.98 425.19,9.77 425.89,10.05 426.6,9.74 427.3,9.94 428.01,9.87 428.71,10.27 429.42,10.04 430.12,9.33 430.83,10.17 431.53,9.78 432.24,9.97 432.94,10 433.65,9.56 434.35,10.15 435.06,10.17 435.76,9.7 436.47,9.5 437.17,9.72 437.88,9.68 438.58,9.64 439.29,10.16 439.99,9.75 440.69,9.23 441.4,10.16 442.1,9.86 442.81,9.04 443.51,9.6 444.22,9.56 444.92,9.56 445.63,9.47 446.33,9.76 447.04,9.57 447.74,9.57 448.45,9.45 449.15,9.67 449.86,9.99 450.56,9.4 451.27,9.52 451.97,9.58 452.68,9.35 453.38,9.44 454.09,9.46 454.79,9.31 455.5,9.36 456.2,9.54 456.9,9.42 457.61,9.55 458.31,9.5 459.02,9.43 459.72,9.41 460.43,9.84 461.13,9.82 461.84,9.05 462.54,9.49 463.25,9.69 463.95,9.35 464.66,9.41 465.36,9.43 466.07,9.52 466.77,9.7 467.48,9.82 468.18,9.51 468.89,9.84 469.59,9.53 470.3,9.73 471,9.52 471.71,9.76 472.41,9.66 473.12,9.47 473.82,9.5 474.53,9.74 475.23,9.78 475.94,9.59 476.64,9.37 477.35,9.48 478.05,9.54 478.76,9.61 479.46,9.01 480.17,9.5 480.87,10.09 481.58,9.25 482.28,9.7 482.99,9.55 483.69,9.46 484.4,9.5 485.1,9.51" fill="none" stroke="#111" stroke-width="1.8" stroke-linejoin="round" stroke-linecap="round"/>
<text x="477.5" y="20.5" font-size="6.7" font-weight="bold" text-anchor="middle" textLength="15.2" lengthAdjust="spacingAndGlyphs">R41A</text>
<polyline points="401.9,10 402.47,9.52 403.03,9.03 403.58,8.54 404.13,8.04 404.66,7.53 405.19,7.01 405.69,6.46 406.18,5.89 406.65,5.3 407.13,4.72 407.61,4.15 408.11,3.61 408.64,3.11 409.2,2.64 409.8,2.14 410.44,1.63 411.1,1.19 411.75,0.89 412.39,0.8 413.08,1.01 413.8,1.44 414.42,1.98 414.81,2.53 415.07,3.06 415.3,3.64 415.52,4.26 415.71,4.92 415.88,5.62 416.03,6.37 416.14,7.16 416.23,8 416.28,8.88 416.3,9.8" fill="none" stroke="#111" stroke-width="0.9" stroke-linejoin="round" stroke-linecap="round"/>
<polyline points="416.3,9.8 416.46,10.49 416.61,11.18 416.77,11.87 416.92,12.56 417.07,13.25 417.21,13.94 417.36,14.63 417.5,15.32 417.63,16.01 417.76,16.71 417.89,17.4 418.02,18.1 418.14,18.79 418.26,19.49 418.37,20.18 418.49,20.88 418.6,21.58 418.71,22.27 418.81,22.97 418.92,23.67 419.02,24.37 419.13,25.07 419.23,25.77 419.32,26.47 419.42,27.17 419.52,27.87 419.61,28.56 419.7,29.26 419.8,29.96 419.89,30.66 419.97,31.36 420.06,32.06 420.15,32.77 420.23,33.47 420.31,34.17 420.4,34.87 420.48,35.57 420.56,36.27 420.64,36.97 420.71,37.67 420.79,38.38 420.87,39.08 420.94,39.78 421.02,40.48 421.1,41.18 421.17,41.89 421.24,42.59 421.32,43.29 421.39,43.99 421.47,44.69 421.54,45.4 421.62,46.1 421.69,46.8 421.76,47.5 421.83,48.21 421.91,48.91 421.98,49.61 422.05,50.31 422.12,51.02 422.19,51.72 422.25,52.42 422.32,53.12 422.39,53.83 422.46,54.53 422.52,55.23 422.58,55.94 422.64,56.64 422.7,57.34 422.76,58.05 422.81,58.75 422.87,59.46 422.92,60.16 422.97,60.87 423.02,61.58 423.08,62.28 423.13,62.99 423.19,63.69 423.24,64.39 423.3,65.1 423.36,65.8 423.43,66.5 423.49,67.21 423.56,67.91 423.64,68.61 423.72,69.3 423.8,70 423.89,70.7 423.99,71.4 424.09,72.09 424.2,72.79 424.32,73.49 424.45,74.18 424.58,74.88 424.71,75.57 424.85,76.27 425,76.96 425.15,77.66 425.31,78.35 425.47,79.04 425.63,79.73 425.8,80.42 425.97,81.1 426.14,81.79 426.32,82.47 426.5,83.15 426.68,83.83 426.87,84.51 427.05,85.19 427.24,85.86 427.44,86.54 427.65,87.22 427.86,87.9 428.08,88.57 428.3,89.25" fill="none" stroke="#111" stroke-width="1.25" stroke-linejoin="round" stroke-linecap="round"/>
<polyline points="428.3,89.25 428.46,89.57 428.56,89.9 428.65,90.25 428.7,90.6 428.86,90.91 428.87,91.29" fill="none" stroke="#111" stroke-width="1.25" stroke-linejoin="round" stroke-linecap="round"/>
<polyline points="428.87,91.29 429.13,91.56 429.32,91.87 429.58,92.14 429.47,92.57 430.01,92.72 429.83,93.18" fill="none" stroke="#111" stroke-width="1.44" stroke-linejoin="round" stroke-linecap="round"/>
<polyline points="429.83,93.18 429.81,93.57 429.94,93.9 430.3,94.12 430.42,94.45 430.87,94.63 430.26,95.3" fill="none" stroke="#111" stroke-width="1.62" stroke-linejoin="round" stroke-linecap="round"/>
<polyline points="430.26,95.3 430.84,95.42 430.06,96.18 430.98,96.13 430.72,96.66 430.97,96.93 431.47,97.07" fill="none" stroke="#111" stroke-width="1.81" stroke-linejoin="round" stroke-linecap="round"/>
<polyline points="431.47,97.07 431.29,97.57 432.2,97.47 431.67,98.17 432.74,97.96 432.31,98.62 432.24,99.08" fill="none" stroke="#111" stroke-width="2.0" stroke-linejoin="round" stroke-linecap="round"/>
<polyline points="432.24,99.08 432.72,99.2 433.13,99.35 433.49,99.53 433.51,99.93 433.17,100.61 433.44,100.86" fill="none" stroke="#111" stroke-width="2.19" stroke-linejoin="round" stroke-linecap="round"/>
<polyline points="433.44,100.86 434.11,100.8 434.73,100.75 434.16,101.66 435.27,101.18 435.11,101.77 435.43,101.95" fill="none" stroke="#111" stroke-width="2.38" stroke-linejoin="round" stroke-linecap="round"/>
<polyline points="435.43,101.95 435.08,102.77 435.53,102.82 435.71,103.15 436.05,103.31 437.42,102.2 436.5,103.88" fill="none" stroke="#111" stroke-width="2.5" stroke-linejoin="round" stroke-linecap="round"/>
<polyline points="436.5,103.88 436.49,104.48 437.26,104.06 437.32,104.56 437.85,104.43 437.77,105.15 437.49,106.19" fill="none" stroke="#111" stroke-width="2.5" stroke-linejoin="round" stroke-linecap="round"/>
<polyline points="437.49,106.19 439.09,104.49 438.86,105.45 438.75,106.23 439.66,105.52 439.94,105.73 440.31,105.82" fill="none" stroke="#111" stroke-width="2.5" stroke-linejoin="round" stroke-linecap="round"/>
<polyline points="440.31,105.82 440.22,106.56 440.9,106.21 441.19,106.39 441.06,107.22 441.22,107.61 441.69,107.54" fill="none" stroke="#111" stroke-width="2.5" stroke-linejoin="round" stroke-linecap="round"/>
<polyline points="441.69,107.54 442.97,106.24 442.74,107.22 443.07,107.36 443.4,107.48 443.46,108.04 443.11,109.26" fill="none" stroke="#111" stroke-width="2.5" stroke-linejoin="round" stroke-linecap="round"/>
<polyline points="443.11,109.26 444.03,108.45 444.45,108.43 444.35,109.29 444.83,109.17 444.51,110.42 446.24,108.11" fill="none" stroke="#111" stroke-width="2.5" stroke-linejoin="round" stroke-linecap="round"/>
<polyline points="446.24,108.11 446.35,108.61 445.95,110.04 446.88,109.08 447.11,109.4 446.7,110.87 447.08,110.92" fill="none" stroke="#111" stroke-width="2.5" stroke-linejoin="round" stroke-linecap="round"/>
<polyline points="447.08,110.92 447.74,110.43 448.18,110.35 448.27,110.92 448.84,110.59 448.94,111.17 448.74,112.31" fill="none" stroke="#111" stroke-width="2.5" stroke-linejoin="round" stroke-linecap="round"/>
<polyline points="448.74,112.31 449.44,111.73 450.04,111.31 450.15,111.87 450.32,112.32 450.39,112.98 451.37,111.79" fill="none" stroke="#111" stroke-width="2.5" stroke-linejoin="round" stroke-linecap="round"/>
<polyline points="451.37,111.79 451.44,112.43 451.19,113.77 451.93,113.04 451.95,113.83 452.47,113.54 453.29,112.6" fill="none" stroke="#111" stroke-width="2.5" stroke-linejoin="round" stroke-linecap="round"/>
<polyline points="453.29,112.6 453.33,113.35 453.79,113.18 454.6,112.2 453.8,114.94 454.79,113.51 454.84,114.31" fill="none" stroke="#111" stroke-width="2.5" stroke-linejoin="round" stroke-linecap="round"/>
<polyline points="454.84,114.31 455.36,113.96 455.36,114.89 456.24,113.64 456.16,114.78 456.53,114.81 456.61,115.56" fill="none" stroke="#111" stroke-width="2.5" stroke-linejoin="round" stroke-linecap="round"/>
<polyline points="456.61,115.56 457.79,113.5 457.64,114.86 458.04,114.78 457.89,116.17 458.54,115.45 459.01,115.19" fill="none" stroke="#111" stroke-width="2.5" stroke-linejoin="round" stroke-linecap="round"/>
<polyline points="459.01,115.19 459.22,115.63 459,117.26 459.82,116.03 460.38,115.51 460.38,116.56 460.8,116.43" fill="none" stroke="#111" stroke-width="2.5" stroke-linejoin="round" stroke-linecap="round"/>
<polyline points="460.8,116.43 461.65,115.05 461.52,116.49 461.86,116.6 462.51,115.74 462.02,118.36 462.64,117.6" fill="none" stroke="#111" stroke-width="2.5" stroke-linejoin="round" stroke-linecap="round"/>
<polyline points="462.64,117.6 463.11,117.28 463.5,117.22 463.93,117.02 463.98,118.04 464.5,117.54 464.73,117.99" fill="none" stroke="#111" stroke-width="2.5" stroke-linejoin="round" stroke-linecap="round"/>
<polyline points="464.73,117.99 465.7,115.95 465.42,118.14 465.52,119.1 465.87,119.14 466.38,118.65 467.15,117.17" fill="none" stroke="#111" stroke-width="2.5" stroke-linejoin="round" stroke-linecap="round"/>
<polyline points="467.15,117.17 467.02,119 467.36,119.07 467.84,118.63 468.27,118.38 468.49,118.92 468.87,118.88" fill="none" stroke="#111" stroke-width="2.5" stroke-linejoin="round" stroke-linecap="round"/>
<polyline points="468.87,118.88 469,119.79 469.49,119.27 469.84,119.35 470.35,118.73 470.59,119.22 470.54,120.93" fill="none" stroke="#111" stroke-width="2.5" stroke-linejoin="round" stroke-linecap="round"/>
<polyline points="470.54,120.93 471.44,118.71 471.59,119.58 471.63,120.96 472.34,119.45 472.66,119.62 473.21,118.83" fill="none" stroke="#111" stroke-width="2.5" stroke-linejoin="round" stroke-linecap="round"/>
<polyline points="473.21,118.83 473.5,119.11 473.63,120.15 473.89,120.61 474.6,118.99 474.56,120.83 475.17,119.64" fill="none" stroke="#111" stroke-width="2.5" stroke-linejoin="round" stroke-linecap="round"/>
<polyline points="475.17,119.64 475.35,120.52 475.67,120.7 476.26,119.57 476.41,120.59 476.73,120.75 477.22,120.11" fill="none" stroke="#111" stroke-width="2.5" stroke-linejoin="round" stroke-linecap="round"/>
<polyline points="477.22,120.11 477.19,122.13 477.69,121.39 478.04,121.42 478.22,122.4 478.72,121.63 479.1,121.5" fill="none" stroke="#111" stroke-width="2.5" stroke-linejoin="round" stroke-linecap="round"/>
<polyline points="479.1,121.5 479.36,122.07 479.84,121.36 480.33,120.58 480.75,120.12 480.8,122.09 481.21,121.76" fill="none" stroke="#111" stroke-width="2.5" stroke-linejoin="round" stroke-linecap="round"/>
<polyline points="481.21,121.76 481.53,121.96" fill="none" stroke="#111" stroke-width="2.5" stroke-linejoin="round" stroke-linecap="round"/>
<text x="477.6" y="114.8" font-size="6.7" font-weight="bold" text-anchor="middle" textLength="10" lengthAdjust="spacingAndGlyphs">WT</text>
<polyline points="382.6,147 389.2,146.9" fill="none" stroke="#111" stroke-width="1.1" stroke-linejoin="round" stroke-linecap="round"/>
<polyline points="387.1,143.4 387.1,147 387.4,148 387.1,154.1" fill="none" stroke="#111" stroke-width="1.4" stroke-linejoin="round" stroke-linecap="round"/>
<polyline points="389.2,146.9 389.91,146.9 390.61,146.9 391.32,146.9 392.02,146.9 392.73,146.9 393.43,146.9 394.14,146.9 394.84,146.9 395.55,146.9 396.25,146.9 396.96,146.9 397.66,146.9 398.37,146.9 399.07,146.9 399.78,146.9 400.48,146.9 401.19,146.89 401.9,146.88 402.62,146.86 403.33,146.83 404.04,146.8 404.75,146.76 405.45,146.72 406.14,146.67 406.83,146.61 407.53,146.52 408.25,146.34 408.96,146.08 409.59,145.76 410.1,145.42 410.54,144.97 410.94,144.38 411.29,143.72 411.61,143.02 411.88,142.33 412.11,141.68 412.32,141.02 412.51,140.35 412.69,139.66 412.86,138.97 413.01,138.28 413.16,137.58 413.29,136.88 413.41,136.17 413.53,135.48 413.63,134.78 413.73,134.09 413.83,133.39 413.92,132.69 414,131.99 414.08,131.29 414.16,130.59 414.24,129.89 414.31,129.18 414.38,128.48 414.44,127.78 414.51,127.08 414.58,126.37 414.64,125.67 414.71,124.97 414.77,124.26 414.84,123.56 414.91,122.86 414.97,122.16 415.03,121.45 415.09,120.75 415.15,120.05 415.2,119.35 415.26,118.64 415.32,117.94 415.37,117.24 415.43,116.53 415.48,115.83 415.54,115.13 415.6,114.42 415.66,113.72 415.72,113.02 415.78,112.32 415.84,111.61 415.91,110.91 415.98,110.21 416.05,109.51 416.12,108.81 416.19,108.1 416.26,107.4 416.34,106.7 416.41,105.99 416.48,105.29 416.56,104.58 416.64,103.88 416.73,103.18 416.81,102.48 416.9,101.78 417,101.08 417.1,100.38 417.21,99.69 417.32,99 417.44,98.31 417.57,97.62 417.71,96.93 417.87,96.24 418.04,95.54 418.22,94.84 418.42,94.15 418.63,93.46 418.86,92.78 419.1,92.12 419.35,91.46 419.62,90.82 419.9,90.2 420.21,89.59 420.56,88.96 420.96,88.32 421.4,87.71 421.87,87.15 422.37,86.66 422.89,86.27 423.44,85.96 424.06,85.66 424.72,85.39 425.42,85.14 426.14,84.94 426.86,84.8 427.56,84.71 428.25,84.67 428.95,84.64 429.65,84.61 430.35,84.58 431.06,84.56 431.77,84.54 432.48,84.52 433.19,84.51 433.9,84.5 434.61,84.5 435.31,84.5 436.02,84.5 436.72,84.5 437.43,84.5 438.13,84.5 438.84,84.5 439.54,84.5 440.25,84.5 440.95,84.5 441.66,84.5 442.36,84.5 443.07,84.5 443.77,84.5 444.48,84.5 445.18,84.5 445.89,84.5 446.59,84.5 447.3,84.5" fill="none" stroke="#111" stroke-width="1.0" stroke-linejoin="round" stroke-linecap="round"/>
<polyline points="400,146.7 448,146.9" fill="none" stroke="#111" stroke-width="1.0" stroke-linejoin="round" stroke-linecap="round"/>
<line x1="387.5" y1="131" x2="387.5" y2="137.6" stroke="#111" stroke-width="1.2"/>
<path d="M387.5,141.5 L385.3,137.1 L389.7,137.1Z" fill="#111"/>
<text x="387.4" y="129.2" font-size="6.7" font-weight="bold" text-anchor="middle" textLength="11.2" lengthAdjust="spacingAndGlyphs">Rho</text>
<text x="442.2" y="91.3" font-size="6.7" font-weight="bold" text-anchor="middle" textLength="10" lengthAdjust="spacingAndGlyphs">WT</text>
<text x="440.5" y="145.3" font-size="6.7" font-weight="bold" text-anchor="middle" textLength="15" lengthAdjust="spacingAndGlyphs">R41A</text>
<polyline points="379.2,162.3 379.2,158.8 400,158.8 400,162.3" fill="none" stroke="#111" stroke-width="0.9" stroke-linejoin="round" stroke-linecap="round"/>
<text x="389.6" y="165" font-size="5.8" font-weight="bold" text-anchor="middle" textLength="16.8" lengthAdjust="spacingAndGlyphs">1 min</text>
<polyline points="43,191.3 47,191.3 47,268.5 43,268.5" fill="none" stroke="#111" stroke-width="1.1" stroke-linejoin="round" stroke-linecap="round"/>
<text x="41.4" y="193.8" font-size="6.3" font-weight="bold" text-anchor="end">0</text>
<text x="41.4" y="270.7" font-size="6.3" font-weight="bold" text-anchor="end" textLength="6.8" lengthAdjust="spacingAndGlyphs">50</text>
<text x="43.6" y="229.5" font-size="6.8" font-weight="bold" text-anchor="middle" textLength="64.5" lengthAdjust="spacingAndGlyphs" transform="rotate(-90 43.6 229.5)">Light transmission (%)</text>
<polyline points="46.5,291.5 46.5,329.2" fill="none" stroke="#111" stroke-width="1.1" stroke-linejoin="round" stroke-linecap="round"/>
<line x1="43" y1="329.2" x2="46.5" y2="329.2" stroke="#111" stroke-width="1.1"/>
<text x="41.1" y="331.4" font-size="6.3" font-weight="bold" text-anchor="end" textLength="3.2" lengthAdjust="spacingAndGlyphs">0</text>
<line x1="43" y1="316.63" x2="46.5" y2="316.63" stroke="#111" stroke-width="1.1"/>
<text x="41.1" y="318.83" font-size="6.3" font-weight="bold" text-anchor="end" textLength="3.2" lengthAdjust="spacingAndGlyphs">1</text>
<line x1="43" y1="304.07" x2="46.5" y2="304.07" stroke="#111" stroke-width="1.1"/>
<text x="41.1" y="306.27" font-size="6.3" font-weight="bold" text-anchor="end" textLength="3.2" lengthAdjust="spacingAndGlyphs">2</text>
<line x1="43" y1="291.5" x2="46.5" y2="291.5" stroke="#111" stroke-width="1.1"/>
<text x="41.1" y="293.7" font-size="6.3" font-weight="bold" text-anchor="end" textLength="3.2" lengthAdjust="spacingAndGlyphs">3</text>
<text x="34.3" y="309.55" font-size="6.3" font-weight="bold" text-anchor="middle" textLength="32" lengthAdjust="spacingAndGlyphs" transform="rotate(-90 34.3 309.55)">ATP (nmol)</text>
<line x1="58.1" y1="182" x2="58.1" y2="192.7" stroke="#111" stroke-width="1.0"/>
<line x1="57.5" y1="198.9" x2="57.5" y2="205" stroke="#111" stroke-width="1.2"/>
<path d="M57.5,195 L55.3,199.4 L59.7,199.4Z" fill="#111"/>
<text x="56.8" y="213.6" font-size="6.7" font-weight="bold" text-anchor="middle" textLength="13.2" lengthAdjust="spacingAndGlyphs">mAb</text>
<polyline points="48.7,190.8 57,192.1" fill="none" stroke="#111" stroke-width="1.1" stroke-linejoin="round" stroke-linecap="round"/>
<polyline points="48.7,195.5 57,192.1" fill="none" stroke="#111" stroke-width="1.1" stroke-linejoin="round" stroke-linecap="round"/>
<polyline points="57,192.29 57.71,192.48 58.42,191.72 59.13,191.85 59.84,191.83 60.55,192.46 61.25,191.78 61.96,192.05 62.66,191.98 63.37,191.65 64.07,191.86 64.77,191.4 65.47,191.88 66.18,191.93 66.88,191.77 67.57,191.43 68.27,191.34 68.97,191.31 69.66,191.44 70.35,190.73 71.05,190.9 71.74,190.86 72.43,190.46 73.12,190.57 73.81,190.59 74.5,190.11 75.2,189.56 75.89,189.64 76.58,189.52 77.28,189.48 77.98,188.95 78.67,189.06 79.37,189.34 80.07,189.37 80.77,189.22 81.47,188.84 82.17,188.75 82.87,188.45 83.57,188.05 84.27,188.39 84.97,188.46 85.67,188.42 86.37,188.21 87.08,188.13 87.78,187.77 88.48,187.72 89.19,187.74 89.89,188.09 90.6,187.9 91.3,187.64 92,188.45 92.71,187.24 93.42,187.9 94.12,187.94 94.83,187.42 95.53,187.81 96.24,187.75 96.95,187.75 97.65,187.83 98.36,187.41 99.07,187.58 99.77,187.1 100.48,187.26 101.19,187.41 101.9,187.38 102.6,187.4 103.31,187.15 104.02,187.26 104.72,187.16 105.43,187.24 106.14,187.41 106.85,187.3 107.55,187.35 108.26,187.36 108.97,187.12 109.67,187.42 110.38,187.2 111.09,187.08 111.79,187.03 112.5,187.38 113.2,186.96 113.91,186.75 114.62,187.09 115.32,187.12 116.03,187.13 116.74,187.04 117.44,187.42 118.15,186.69 118.86,187.26 119.56,187.38 120.27,186.93 120.98,186.74 121.68,187.23 122.39,186.67 123.1,187.12 123.8,187.09 124.51,186.69 125.22,187.02 125.92,186.87 126.63,186.72 127.34,186.87 128.04,186.94 128.75,186.53 129.46,187.03 130.16,186.77 130.87,187.03 131.58,186.65 132.28,186.59 132.99,186.5 133.7,186.82 134.4,186.56 135.11,186.61 135.81,186.84 136.52,186.76 137.23,186.74 137.93,186.51 138.64,186.78 139.35,186.7 140.05,186.92 140.76,186.95 141.47,186.4 142.17,186.62 142.88,186.82 143.59,186.69 144.29,186.91 145,186.3 145.71,186.67 146.41,186.6 147.12,186.84 147.83,186.73 148.53,186.64 149.24,186.2 149.95,186.49 150.65,186.51 151.36,186.75 152.07,186.73 152.77,186.18 153.48,186.52 154.19,186.54 154.89,186.38 155.6,186.34 156.31,185.95 157.01,186.48 157.72,186.1 158.43,186.78 159.13,186.5 159.84,186.32 160.55,186.27 161.25,185.89 161.96,186.63 162.67,186.28 163.37,186.48 164.08,186.36 164.79,186.49 165.49,186.36 166.2,185.8" fill="none" stroke="#111" stroke-width="1.8" stroke-linejoin="round" stroke-linecap="round"/>
<text x="159" y="194.9" font-size="6.7" font-weight="bold" text-anchor="middle" textLength="14.5" lengthAdjust="spacingAndGlyphs">R41A</text>
<polyline points="77,189.2 77.64,188.87 78.28,188.52 78.91,188.16 79.51,187.76 80.1,187.31 80.67,186.83 81.24,186.36 81.82,185.91 82.42,185.53 83.04,185.22 83.7,184.98 84.38,184.73 85.08,184.51 85.8,184.31 86.52,184.15 87.25,184.04 87.96,184 88.68,184.02 89.42,184.09 90.17,184.19 90.91,184.33 91.63,184.5 92.33,184.68 92.99,184.89 93.6,185.13 94.19,185.51 94.75,186.01 95.27,186.58 95.75,187.17 96.17,187.73 96.56,188.31 96.94,188.91 97.29,189.54 97.62,190.19 97.92,190.87 98.18,191.57 98.4,192.3" fill="none" stroke="#111" stroke-width="1.3" stroke-linejoin="round" stroke-linecap="round"/>
<polyline points="98.4,192.3 98.66,192.96 98.91,193.62 99.16,194.28 99.4,194.95 99.64,195.61 99.87,196.28 100.1,196.95 100.32,197.62 100.53,198.29 100.74,198.97 100.94,199.64 101.14,200.32 101.32,201 101.5,201.68 101.68,202.37 101.85,203.05 102.02,203.74 102.19,204.42 102.36,205.11 102.53,205.8 102.7,206.48 102.87,207.17 103.04,207.85 103.21,208.54 103.39,209.22 103.56,209.91 103.74,210.59 103.91,211.28 104.08,211.96 104.26,212.65 104.43,213.33 104.6,214.02 104.77,214.7 104.93,215.39 105.1,216.08 105.26,216.77 105.42,217.45 105.58,218.14 105.73,218.83 105.88,219.52 106.03,220.21 106.17,220.9 106.32,221.59 106.46,222.28 106.6,222.98 106.74,223.67 106.88,224.36 107.02,225.05 107.15,225.75 107.29,226.44 107.42,227.13 107.56,227.83 107.69,228.52 107.83,229.21 107.96,229.91 108.1,230.6 108.24,231.29 108.37,231.99 108.51,232.68 108.64,233.37 108.77,234.07 108.91,234.76 109.04,235.46 109.17,236.15 109.3,236.84 109.44,237.54 109.57,238.23 109.7,238.92 109.84,239.62 109.97,240.31 110.11,241 110.24,241.7 110.38,242.39 110.51,243.08 110.65,243.78 110.78,244.47 110.92,245.17 111.05,245.86 111.18,246.56 111.31,247.25 111.45,247.94 111.58,248.64 111.72,249.33 111.86,250.03 112,250.72 112.14,251.41 112.29,252.1 112.45,252.79 112.6,253.47 112.77,254.16 112.93,254.84 113.11,255.53 113.28,256.21 113.47,256.89 113.65,257.57 113.85,258.25 114.04,258.93 114.24,259.61 114.45,260.29 114.65,260.97 114.87,261.64 115.08,262.32 115.3,262.99 115.52,263.66 115.75,264.33 115.98,265 116.21,265.66 116.45,266.33 116.68,266.99 116.93,267.65 117.18,268.32 117.43,268.98 117.69,269.64 117.96,270.3 118.23,270.96 118.51,271.61 118.8,272.25 119.1,272.89 119.4,273.53 119.72,274.15" fill="none" stroke="#111" stroke-width="1.25" stroke-linejoin="round" stroke-linecap="round"/>
<polyline points="119.72,274.15 119.89,274.46 120.08,274.76 120.3,275.03 120.4,275.38 120.51,275.73 120.75,275.99" fill="none" stroke="#111" stroke-width="1.25" stroke-linejoin="round" stroke-linecap="round"/>
<polyline points="120.75,275.99 121.05,276.22 121.04,276.64 121.39,276.83 121.26,277.34 121.79,277.41 121.86,277.78" fill="none" stroke="#111" stroke-width="1.38" stroke-linejoin="round" stroke-linecap="round"/>
<polyline points="121.86,277.78 121.77,278.27 122.03,278.52 122.49,278.63 122.78,278.85 122.86,279.23 123.47,279.22" fill="none" stroke="#111" stroke-width="1.5" stroke-linejoin="round" stroke-linecap="round"/>
<polyline points="123.47,279.22 123.44,279.67 123.23,280.27 123.71,280.35 124,280.57 124.09,280.94 124.29,281.23" fill="none" stroke="#111" stroke-width="1.63" stroke-linejoin="round" stroke-linecap="round"/>
<polyline points="124.29,281.23 124.06,281.84 124.66,281.83 125.41,281.71 125.07,282.4 125.6,282.44 125.42,283.01" fill="none" stroke="#111" stroke-width="1.76" stroke-linejoin="round" stroke-linecap="round"/>
<polyline points="125.42,283.01 125.85,283.13 125.71,283.68 126.29,283.68 126.79,283.74 126.38,284.5 126.22,285.07" fill="none" stroke="#111" stroke-width="1.89" stroke-linejoin="round" stroke-linecap="round"/>
<polyline points="126.22,285.07 126.85,285.03 127.72,284.79 127.01,285.8 127.89,285.55 127.53,286.29 127.94,286.42" fill="none" stroke="#111" stroke-width="2.02" stroke-linejoin="round" stroke-linecap="round"/>
<polyline points="127.94,286.42 128.84,286.13 128.57,286.81 129.1,286.82 129.75,286.71 129.64,287.27 129.39,287.97" fill="none" stroke="#111" stroke-width="2.1" stroke-linejoin="round" stroke-linecap="round"/>
<polyline points="129.39,287.97 129.5,288.35 130.48,287.92 130.27,288.6 129.76,289.59 130.49,289.38 131.28,289.08" fill="none" stroke="#111" stroke-width="2.1" stroke-linejoin="round" stroke-linecap="round"/>
<polyline points="131.28,289.08 131.15,289.71 131.45,289.91 132.31,289.51 132.41,289.91 132.89,289.91 132.97,290.34" fill="none" stroke="#111" stroke-width="2.1" stroke-linejoin="round" stroke-linecap="round"/>
<polyline points="132.97,290.34 133.24,290.55 132.21,292.24 133.31,291.53 133.73,291.58 133.9,291.92 134.32,291.97" fill="none" stroke="#111" stroke-width="2.1" stroke-linejoin="round" stroke-linecap="round"/>
<polyline points="134.32,291.97 134.62,292.15 134.87,292.39 134.91,292.91 134.32,294.24 135.7,293.04 135.87,293.39" fill="none" stroke="#111" stroke-width="2.1" stroke-linejoin="round" stroke-linecap="round"/>
<polyline points="135.87,293.39 136.2,293.55 136.75,293.37 136.64,294.13 136.78,294.56 137.5,294.11 137.92,294.11" fill="none" stroke="#111" stroke-width="2.1" stroke-linejoin="round" stroke-linecap="round"/>
<polyline points="137.92,294.11 138.55,293.76 137.9,295.44 138.19,295.65 138.86,295.21 139.53,294.76 139.46,295.58" fill="none" stroke="#111" stroke-width="2.1" stroke-linejoin="round" stroke-linecap="round"/>
<polyline points="139.46,295.58 139.99,295.34 140.28,295.53 140.36,296.12 140.33,296.93 140.95,296.51 141.29,296.62" fill="none" stroke="#111" stroke-width="2.1" stroke-linejoin="round" stroke-linecap="round"/>
<polyline points="141.29,296.62 141.93,296.12 141.99,296.78 142.46,296.61 142.4,297.54 142.92,297.27 143.14,297.62" fill="none" stroke="#111" stroke-width="2.1" stroke-linejoin="round" stroke-linecap="round"/>
<polyline points="143.14,297.62 143.04,298.67 143.81,297.85 143.91,298.47 143.9,299.32 144.79,298.24 145.02,298.58" fill="none" stroke="#111" stroke-width="2.1" stroke-linejoin="round" stroke-linecap="round"/>
<polyline points="145.02,298.58 145.26,298.89 145.43,299.37 145.98,299.01 146.06,299.69 146.76,299 147.01,299.3" fill="none" stroke="#111" stroke-width="2.1" stroke-linejoin="round" stroke-linecap="round"/>
<polyline points="147.01,299.3 147.56,298.93 147.45,300.02 148.12,299.41 148.44,299.56 148.4,300.47 148.98,300.05" fill="none" stroke="#111" stroke-width="2.1" stroke-linejoin="round" stroke-linecap="round"/>
<polyline points="148.98,300.05 149.34,300.11 149.35,300.95 149.88,300.63 149.99,301.23 150.56,300.83 150.67,301.43" fill="none" stroke="#111" stroke-width="2.1" stroke-linejoin="round" stroke-linecap="round"/>
<polyline points="150.67,301.43 150.93,301.72 151.43,301.45 151.45,302.3 151.78,302.44 152.46,301.74 152.73,301.99" fill="none" stroke="#111" stroke-width="2.1" stroke-linejoin="round" stroke-linecap="round"/>
<polyline points="152.73,301.99 152.9,302.51 153.44,302.1 154.15,301.24 154.01,302.58 154.18,303.12 154.77,302.54" fill="none" stroke="#111" stroke-width="2.1" stroke-linejoin="round" stroke-linecap="round"/>
<polyline points="154.77,302.54 155.23,302.3 155.39,302.9 155.61,303.34 156.11,302.95 156.35,303.35 156.97,302.61" fill="none" stroke="#111" stroke-width="2.1" stroke-linejoin="round" stroke-linecap="round"/>
<polyline points="156.97,302.61 157.03,303.52 157.36,303.67 157.62,304 158,303.97 158.27,304.27 158.84,303.61" fill="none" stroke="#111" stroke-width="2.1" stroke-linejoin="round" stroke-linecap="round"/>
<polyline points="158.84,303.61 158.96,304.43 159.59,303.53 159.8,304.08 159.92,304.92 160.29,304.9 160.96,303.82" fill="none" stroke="#111" stroke-width="2.1" stroke-linejoin="round" stroke-linecap="round"/>
<polyline points="160.96,303.82 161,304.98 161.46,304.62 161.84,304.56 162.07,305.08 162.42,305.13 162.39,306.73" fill="none" stroke="#111" stroke-width="2.1" stroke-linejoin="round" stroke-linecap="round"/>
<polyline points="162.39,306.73 163.27,304.61 163.5,305.13 163.81,305.34" fill="none" stroke="#111" stroke-width="2.1" stroke-linejoin="round" stroke-linecap="round"/>
<text x="158" y="300.3" font-size="6.7" font-weight="bold" text-anchor="middle" textLength="9.6" lengthAdjust="spacingAndGlyphs">WT</text>
<polyline points="49.3,329.2 56.5,329.2" fill="none" stroke="#111" stroke-width="1.1" stroke-linejoin="round" stroke-linecap="round"/>
<polyline points="53.7,327.2 53.7,329.5 54,330.5 53.7,333.4" fill="none" stroke="#111" stroke-width="1.3" stroke-linejoin="round" stroke-linecap="round"/>
<polyline points="56.5,329.2 57.21,329.21 57.92,329.22 58.62,329.23 59.33,329.24 60.04,329.24 60.75,329.25 61.45,329.26 62.16,329.26 62.87,329.27 63.58,329.28 64.28,329.28 64.99,329.29 65.7,329.29 66.41,329.29 67.11,329.3 67.82,329.3 68.53,329.3 69.24,329.3 69.94,329.3 70.65,329.3 71.36,329.3 72.07,329.3 72.78,329.3 73.48,329.29 74.19,329.29 74.9,329.29 75.61,329.28 76.31,329.28 77.02,329.28 77.73,329.27 78.44,329.26 79.14,329.26 79.85,329.25 80.56,329.25 81.27,329.24 81.97,329.23 82.68,329.23 83.39,329.22 84.1,329.21 84.8,329.2 85.51,329.19 86.22,329.18 86.94,329.17 87.65,329.16 88.37,329.14 89.08,329.13 89.79,329.1 90.49,329.08 91.19,329.04 91.88,329.01 92.58,328.93 93.29,328.75 93.99,328.5 94.63,328.2 95.19,327.88 95.71,327.45 96.19,326.92 96.64,326.33 97.06,325.71 97.44,325.09 97.79,324.5 98.12,323.88 98.43,323.25 98.72,322.6 99,321.94 99.27,321.28 99.54,320.62 99.81,319.96 100.08,319.3 100.35,318.65 100.61,317.99 100.87,317.33 101.12,316.67 101.38,316.01 101.64,315.35 101.91,314.7 102.2,314.05 102.48,313.4 102.77,312.75 103.06,312.1 103.36,311.45 103.67,310.82 104,310.19 104.34,309.58 104.7,308.98 105.08,308.38 105.48,307.79 105.89,307.2 106.33,306.64 106.78,306.09 107.25,305.56 107.73,305.07 108.24,304.58 108.76,304.09 109.31,303.62 109.88,303.17 110.46,302.75 111.05,302.35 111.65,301.99 112.25,301.67 112.88,301.37 113.52,301.09 114.18,300.82 114.85,300.57 115.53,300.33 116.21,300.11 116.9,299.9 117.58,299.71 118.26,299.53 118.94,299.36 119.62,299.19 120.31,299.02 121,298.86 121.69,298.71 122.38,298.56 123.07,298.43 123.77,298.3 124.47,298.17 125.17,298.06 125.88,297.96 126.59,297.88 127.3,297.8" fill="none" stroke="#111" stroke-width="1.0" stroke-linejoin="round" stroke-linecap="round"/>
<polyline points="85,329.3 127.3,329.4" fill="none" stroke="#111" stroke-width="1.0" stroke-linejoin="round" stroke-linecap="round"/>
<line x1="54.6" y1="315.8" x2="54.6" y2="322.3" stroke="#111" stroke-width="1.2"/>
<path d="M54.6,326.2 L52.4,321.8 L56.8,321.8Z" fill="#111"/>
<text x="54.6" y="312.8" font-size="6.7" font-weight="bold" text-anchor="middle" textLength="13.6" lengthAdjust="spacingAndGlyphs">mAb</text>
<text x="121.3" y="298.3" font-size="6.7" font-weight="bold" text-anchor="middle" textLength="9.6" lengthAdjust="spacingAndGlyphs">WT</text>
<text x="118.9" y="327.4" font-size="6.7" font-weight="bold" text-anchor="middle" textLength="15" lengthAdjust="spacingAndGlyphs">R41A</text>
<polyline points="46.1,343.9 46.1,340.4 66.4,340.4 66.4,343.9" fill="none" stroke="#111" stroke-width="0.9" stroke-linejoin="round" stroke-linecap="round"/>
<text x="56.25" y="346.9" font-size="5.8" font-weight="bold" text-anchor="middle" textLength="16.3" lengthAdjust="spacingAndGlyphs">1 min</text>
<polyline points="212.9,192.7 216.9,192.7 216.9,270 212.9,270" fill="none" stroke="#111" stroke-width="1.1" stroke-linejoin="round" stroke-linecap="round"/>
<text x="211.3" y="195.2" font-size="6.3" font-weight="bold" text-anchor="end">0</text>
<text x="211.3" y="272.2" font-size="6.3" font-weight="bold" text-anchor="end" textLength="6.8" lengthAdjust="spacingAndGlyphs">50</text>
<text x="213.5" y="230.95" font-size="6.8" font-weight="bold" text-anchor="middle" textLength="64.5" lengthAdjust="spacingAndGlyphs" transform="rotate(-90 213.5 230.95)">Light transmission (%)</text>
<polyline points="217.3,292.6 217.3,330.3" fill="none" stroke="#111" stroke-width="1.1" stroke-linejoin="round" stroke-linecap="round"/>
<line x1="213.8" y1="330.3" x2="217.3" y2="330.3" stroke="#111" stroke-width="1.1"/>
<text x="211.9" y="332.5" font-size="6.3" font-weight="bold" text-anchor="end" textLength="3.2" lengthAdjust="spacingAndGlyphs">0</text>
<line x1="213.8" y1="317.73" x2="217.3" y2="317.73" stroke="#111" stroke-width="1.1"/>
<text x="211.9" y="319.93" font-size="6.3" font-weight="bold" text-anchor="end" textLength="3.2" lengthAdjust="spacingAndGlyphs">1</text>
<line x1="213.8" y1="305.17" x2="217.3" y2="305.17" stroke="#111" stroke-width="1.1"/>
<text x="211.9" y="307.37" font-size="6.3" font-weight="bold" text-anchor="end" textLength="3.2" lengthAdjust="spacingAndGlyphs">2</text>
<line x1="213.8" y1="292.6" x2="217.3" y2="292.6" stroke="#111" stroke-width="1.1"/>
<text x="211.9" y="294.8" font-size="6.3" font-weight="bold" text-anchor="end" textLength="3.2" lengthAdjust="spacingAndGlyphs">3</text>
<text x="205.1" y="310.65" font-size="6.3" font-weight="bold" text-anchor="middle" textLength="32" lengthAdjust="spacingAndGlyphs" transform="rotate(-90 205.1 310.65)">ATP (nmol)</text>
<line x1="228" y1="185.6" x2="228" y2="193.8" stroke="#111" stroke-width="0.9"/>
<line x1="227.3" y1="200.1" x2="227.3" y2="206.9" stroke="#111" stroke-width="1.2"/>
<path d="M227.3,196.2 L225.1,200.6 L229.5,200.6Z" fill="#111"/>
<text x="228.5" y="215.4" font-size="6.7" font-weight="bold" text-anchor="middle" textLength="12.5" lengthAdjust="spacingAndGlyphs">Pdpn</text>
<polyline points="218.5,193.61 219.21,193.74 219.92,193.87 220.63,194.16 221.34,193.92 222.05,194.04 222.76,193.62 223.46,194 224.17,193.71 224.88,193.5 225.59,193.49 226.29,193.63 227,193.93 227.71,193.69 228.41,192.99 229.12,193.63 229.82,193.31 230.53,193.47 231.23,192.92 231.94,192.96 232.64,192.61 233.34,192.8 234.05,192.47 234.75,192.82 235.45,192.43 236.16,192.51 236.86,192.14 237.57,192.76 238.28,192.4 238.98,192.27 239.69,192.24 240.4,192.96 241.11,192.43 241.82,192.4 242.52,192.4 243.23,192.79 243.94,192.35 244.65,192.3 245.36,193.1 246.07,192.26 246.78,192.51 247.49,192.6 248.2,192.58 248.91,192.53 249.62,192.47 250.33,192.73 251.04,192.48 251.74,192.42 252.45,192.42 253.16,192.79 253.87,192.81 254.58,192.85 255.29,192.63 256,192.51 256.71,192.59 257.42,192.56 258.12,192.36 258.83,192.41 259.54,192.55 260.25,192.67 260.96,193 261.67,192.63 262.38,192.52 263.09,192.04 263.8,192.75 264.5,192.6 265.21,192.41 265.92,192.64 266.63,192.47 267.34,192.82 268.05,192.47 268.76,193.04 269.47,192.58 270.17,192.49 270.88,192.71 271.59,192.47 272.3,192.62 273.01,192.54 273.72,192.88 274.43,192.17 275.14,192.54 275.85,192.62 276.55,192.74 277.26,192.73 277.97,192.39 278.68,192.58 279.39,192.58 280.1,192.87 280.81,192.43 281.52,192.36 282.23,192.95 282.93,192.63 283.64,192.72 284.35,192.8 285.06,192.57 285.77,192.44 286.48,192.81 287.19,192.84 287.9,192.68 288.6,192.95 289.31,192.58 290.02,192.61 290.73,192.66 291.44,192.72 292.15,192.64 292.86,192.66 293.57,192.44 294.28,192.82 294.98,192.4 295.69,192.71 296.4,192.85 297.11,192.57 297.82,192.4 298.53,192.86 299.24,192.91 299.95,193.06 300.65,192.64 301.36,192.88 302.07,192.6 302.78,192.78 303.49,192.61 304.2,192.72 304.91,192.77 305.62,192.98 306.33,192.67 307.03,192.34 307.74,192.53 308.45,192.7 309.16,192.9 309.87,192.6 310.58,192.85 311.29,193.09 312,192.75 312.71,192.82 313.41,192.51 314.12,192.58 314.83,192.93 315.54,192.51 316.25,192.61 316.96,192.71 317.67,192.73 318.38,192.93 319.08,192.89 319.79,193.1 320.5,193.17 321.21,192.55 321.92,192.08 322.63,192.85 323.34,192.68 324.05,192.92 324.76,192.91 325.46,192.99 326.17,192.91 326.88,193.02 327.59,192.77 328.3,192.5" fill="none" stroke="#111" stroke-width="1.5" stroke-linejoin="round" stroke-linecap="round"/>
<text x="320.9" y="201" font-size="6.7" font-weight="bold" text-anchor="middle" textLength="14.8" lengthAdjust="spacingAndGlyphs">R41A</text>
<polyline points="233.8,192.3 234.34,191.83 234.89,191.37 235.45,190.92 236.01,190.48 236.57,190.04 237.14,189.61 237.72,189.2 238.3,188.79 238.89,188.38 239.48,187.97 240.08,187.57 240.68,187.18 241.29,186.8 241.91,186.44 242.53,186.09 243.16,185.76 243.79,185.46 244.44,185.17 245.09,184.88 245.76,184.6 246.43,184.33 247.1,184.07 247.78,183.83 248.46,183.61 249.15,183.41 249.83,183.24 250.52,183.08 251.22,182.92 251.92,182.77 252.62,182.62 253.33,182.48 254.04,182.36 254.75,182.25 255.46,182.17 256.17,182.12 256.88,182.1 257.59,182.11 258.3,182.13 259.02,182.16 259.73,182.21 260.45,182.26 261.16,182.32 261.87,182.39 262.58,182.46 263.29,182.53 263.99,182.62 264.7,182.73 265.41,182.85 266.12,182.99 266.82,183.14 267.52,183.31 268.22,183.49 268.9,183.68 269.58,183.87 270.25,184.08 270.91,184.33 271.56,184.61 272.2,184.92 272.84,185.25 273.47,185.6 274.11,185.94 274.75,186.28 275.39,186.6 276.04,186.9 276.68,187.2 277.33,187.49 277.98,187.79 278.63,188.08 279.28,188.38 279.93,188.68 280.57,188.99 281.21,189.31 281.85,189.62 282.49,189.95 283.12,190.27 283.76,190.6 284.39,190.93 285.02,191.27 285.65,191.61 286.28,191.95 286.9,192.3" fill="none" stroke="#111" stroke-width="1.25" stroke-linejoin="round" stroke-linecap="round"/>
<line x1="288.5" y1="185.6" x2="288.5" y2="192.7" stroke="#111" stroke-width="0.9"/>
<line x1="287.3" y1="200.1" x2="287.3" y2="206.9" stroke="#111" stroke-width="1.2"/>
<path d="M287.3,196.2 L285.1,200.6 L289.5,200.6Z" fill="#111"/>
<text x="286" y="215.4" font-size="6.7" font-weight="bold" text-anchor="middle" textLength="11.5" lengthAdjust="spacingAndGlyphs">α-Fc</text>
<polyline points="287.5,192.5 288.27,192.71 288.98,192.98 289.64,193.31 290.21,193.68 290.69,194.09 291.08,194.55 291.43,195.12 291.74,195.77 292.01,196.47 292.25,197.19 292.46,197.88 292.65,198.55 292.83,199.23 292.98,199.91 293.13,200.6 293.27,201.3 293.39,202 293.51,202.7 293.63,203.39 293.75,204.09 293.86,204.78 293.97,205.48 294.08,206.17 294.18,206.87 294.28,207.57 294.38,208.27 294.48,208.96 294.57,209.66 294.66,210.36 294.75,211.06 294.84,211.76 294.92,212.46 295,213.16 295.08,213.86 295.15,214.56 295.23,215.26 295.3,215.96 295.36,216.66 295.43,217.37 295.49,218.07 295.55,218.77 295.61,219.47 295.67,220.17 295.72,220.88 295.78,221.58 295.83,222.28 295.89,222.98 295.94,223.69 296,224.39 296.05,225.09 296.11,225.79 296.17,226.5 296.23,227.2 296.29,227.9 296.36,228.6 296.42,229.3 296.49,230 296.55,230.7 296.62,231.41 296.69,232.11 296.76,232.81 296.82,233.51 296.89,234.21 296.97,234.91 297.04,235.61 297.11,236.31 297.18,237.01 297.25,237.72 297.33,238.42 297.4,239.12 297.48,239.82 297.56,240.52 297.63,241.22 297.71,241.92 297.78,242.62 297.86,243.32 297.94,244.02 298.01,244.72 298.09,245.42 298.18,246.12 298.26,246.82 298.35,247.52 298.44,248.22 298.54,248.92 298.64,249.61 298.75,250.31 298.87,251 298.99,251.69 299.13,252.38 299.27,253.07 299.42,253.76 299.57,254.45 299.72,255.14 299.87,255.83 300.02,256.52 300.16,257.21 300.31,257.9 300.45,258.59 300.59,259.28 300.73,259.97 300.88,260.66 301.02,261.35 301.17,262.04 301.31,262.73 301.46,263.42 301.61,264.11 301.77,264.79 301.93,265.48 302.09,266.16" fill="none" stroke="#111" stroke-width="1.25" stroke-linejoin="round" stroke-linecap="round"/>
<polyline points="302.09,266.16 302.19,266.5 302.25,266.85 302.36,267.18 302.4,267.53 302.47,267.88 302.71,268.18" fill="none" stroke="#111" stroke-width="1.25" stroke-linejoin="round" stroke-linecap="round"/>
<polyline points="302.71,268.18 302.6,268.57 302.83,268.87 302.63,269.28 302.86,269.59 303.11,269.88 303.1,270.25" fill="none" stroke="#111" stroke-width="1.39" stroke-linejoin="round" stroke-linecap="round"/>
<polyline points="303.1,270.25 303.19,270.59 303.26,270.93 303.15,271.32 303.4,271.62 303.25,272.03 303.55,272.31" fill="none" stroke="#111" stroke-width="1.54" stroke-linejoin="round" stroke-linecap="round"/>
<polyline points="303.55,272.31 303.83,272.59 304.25,272.83 304.38,273.16 304.04,273.63 304.01,274 303.89,274.41" fill="none" stroke="#111" stroke-width="1.68" stroke-linejoin="round" stroke-linecap="round"/>
<polyline points="303.89,274.41 304.6,274.55 304.5,274.95 304.9,275.19 304.89,275.56 305.65,275.66 304.73,276.36" fill="none" stroke="#111" stroke-width="1.82" stroke-linejoin="round" stroke-linecap="round"/>
<polyline points="304.73,276.36 305.37,276.5 305.26,276.91 305.19,277.32 305.36,277.63 306.16,277.67 305.14,278.49" fill="none" stroke="#111" stroke-width="1.96" stroke-linejoin="round" stroke-linecap="round"/>
<polyline points="305.14,278.49 305.59,278.68 305.84,278.96 306.49,279.04 307.08,279.15 307.24,279.46 306.75,280.08" fill="none" stroke="#111" stroke-width="2.11" stroke-linejoin="round" stroke-linecap="round"/>
<polyline points="306.75,280.08 306.74,280.48 308.26,280.1 306.31,281.49 307.15,281.45 307,281.92 307.21,282.21" fill="none" stroke="#111" stroke-width="2.2" stroke-linejoin="round" stroke-linecap="round"/>
<polyline points="307.21,282.21 308.25,282.06 307.5,282.86 307.91,283.04 308.83,282.93 308.13,283.72 309.11,283.57" fill="none" stroke="#111" stroke-width="2.2" stroke-linejoin="round" stroke-linecap="round"/>
<polyline points="309.11,283.57 308.36,284.39 308.51,284.72 309.75,284.41 309.42,285.01 309.72,285.24 309.64,285.69" fill="none" stroke="#111" stroke-width="2.2" stroke-linejoin="round" stroke-linecap="round"/>
<polyline points="309.64,285.69 309.79,286 309.53,286.57 309.87,286.77 310.73,286.67 310.17,287.42 310.05,287.91" fill="none" stroke="#111" stroke-width="2.2" stroke-linejoin="round" stroke-linecap="round"/>
<polyline points="310.05,287.91 310.8,287.86 311.75,287.67 311.57,288.2 311.57,288.62 312.36,288.51 311.93,289.21" fill="none" stroke="#111" stroke-width="2.2" stroke-linejoin="round" stroke-linecap="round"/>
<polyline points="311.93,289.21 312.6,289.18 311.94,290.06 312.19,290.31 312.7,290.38 313.39,290.32 312.97,291.06" fill="none" stroke="#111" stroke-width="2.2" stroke-linejoin="round" stroke-linecap="round"/>
<polyline points="312.97,291.06 313.55,291.06 313.78,291.32 313.28,292.15 314.23,291.85 314.69,291.92 314.08,292.88" fill="none" stroke="#111" stroke-width="2.2" stroke-linejoin="round" stroke-linecap="round"/>
<polyline points="314.08,292.88 313.93,293.47 315.06,292.96 314.78,293.68 314.53,294.39 315.67,293.82 314.99,294.94" fill="none" stroke="#111" stroke-width="2.2" stroke-linejoin="round" stroke-linecap="round"/>
<polyline points="314.99,294.94 315.26,295.18 316.39,294.58 316.36,295.1 317.21,294.74 317.37,295.08 317.07,295.9" fill="none" stroke="#111" stroke-width="2.2" stroke-linejoin="round" stroke-linecap="round"/>
<polyline points="317.07,295.9 317.91,295.51 317.7,296.25 317.88,296.58 318.98,295.87 318.24,297.24 318.19,297.84" fill="none" stroke="#111" stroke-width="2.2" stroke-linejoin="round" stroke-linecap="round"/>
<polyline points="318.19,297.84 319.03,297.4 319.04,297.94 319.17,298.36 320.05,297.81 320.39,297.94 321.19,297.44" fill="none" stroke="#111" stroke-width="2.2" stroke-linejoin="round" stroke-linecap="round"/>
<polyline points="321.19,297.44 320.62,298.8 320.73,299.26 321.2,299.21 321.03,300.1 321.49,300.06 321.99,299.95" fill="none" stroke="#111" stroke-width="2.2" stroke-linejoin="round" stroke-linecap="round"/>
<polyline points="321.99,299.95 323.08,298.82 322.47,300.53 323.08,300.18 323.29,300.53 323.74,300.44 324.1,300.5" fill="none" stroke="#111" stroke-width="2.2" stroke-linejoin="round" stroke-linecap="round"/>
<polyline points="324.1,300.5 324.43,300.63 324.5,301.27 325.35,300.34 325.36,301.12 325.59,301.45 325.77,301.88" fill="none" stroke="#111" stroke-width="2.2" stroke-linejoin="round" stroke-linecap="round"/>
<polyline points="325.77,301.88 326.09,302.03 326.6,301.76 327,301.74 327.44,301.62 327.27,302.83 327.71,302.72" fill="none" stroke="#111" stroke-width="2.2" stroke-linejoin="round" stroke-linecap="round"/>
<polyline points="327.71,302.72 328.11,302.69 328.62,302.41 329.02,302.38 328.85,303.57 328.95,304.18 329.63,303.55" fill="none" stroke="#111" stroke-width="2.2" stroke-linejoin="round" stroke-linecap="round"/>
<polyline points="329.63,303.55 329.66,304.3 330.7,302.95 330.85,303.45 330.92,304.11 330.71,305.37 331.86,303.78" fill="none" stroke="#111" stroke-width="2.2" stroke-linejoin="round" stroke-linecap="round"/>
<polyline points="331.86,303.78 331.97,304.37 332.39,304.28 332.71,304.44 332.82,305.03 333.17,305.09 333.28,305.68" fill="none" stroke="#111" stroke-width="2.2" stroke-linejoin="round" stroke-linecap="round"/>
<polyline points="333.28,305.68 334.19,304.58 333.85,306.13 334.66,305.22 334.72,305.93 335.42,305.24 335.79,305.28" fill="none" stroke="#111" stroke-width="2.2" stroke-linejoin="round" stroke-linecap="round"/>
<polyline points="335.79,305.28 336.05,305.54 335.93,306.65 336.36,306.56 337.06,305.87 336.77,307.35 337.16,307.34" fill="none" stroke="#111" stroke-width="2.2" stroke-linejoin="round" stroke-linecap="round"/>
<polyline points="337.16,307.34 337.72,306.96 338.5,306.07 338.32,307.32 338.89,306.91 338.48,308.69 339.37,307.54" fill="none" stroke="#111" stroke-width="2.2" stroke-linejoin="round" stroke-linecap="round"/>
<polyline points="339.37,307.54 339.64,307.81" fill="none" stroke="#111" stroke-width="2.2" stroke-linejoin="round" stroke-linecap="round"/>
<text x="335.8" y="300.6" font-size="6.7" font-weight="bold" text-anchor="middle" textLength="10.2" lengthAdjust="spacingAndGlyphs">WT</text>
<polyline points="219,330.2 225.5,330.3" fill="none" stroke="#111" stroke-width="1.1" stroke-linejoin="round" stroke-linecap="round"/>
<polyline points="224.1,327 224.1,330.5 224.4,331.5 224.1,334.8" fill="none" stroke="#111" stroke-width="1.3" stroke-linejoin="round" stroke-linecap="round"/>
<polyline points="225.5,330.3 226.21,330.25 226.91,330.21 227.62,330.16 228.32,330.12 229.03,330.08 229.74,330.03 230.44,329.99 231.15,329.95 231.85,329.91 232.56,329.87 233.27,329.84 233.97,329.8 234.68,329.77 235.38,329.74 236.09,329.71 236.8,329.69 237.5,329.66 238.21,329.64 238.92,329.62 239.62,329.61 240.33,329.59 241.03,329.58 241.74,329.57 242.45,329.56 243.15,329.55 243.86,329.54 244.57,329.53 245.27,329.52 245.98,329.51 246.69,329.51 247.4,329.5 248.1,329.49 248.81,329.48 249.52,329.48 250.22,329.47 250.93,329.47 251.64,329.46 252.34,329.45 253.05,329.45 253.76,329.44 254.47,329.44 255.17,329.43 255.88,329.43 256.59,329.42 257.29,329.42 258,329.41 258.71,329.41 259.41,329.4 260.12,329.4 260.83,329.39 261.53,329.39 262.24,329.39 262.95,329.38 263.66,329.38 264.36,329.38 265.07,329.37 265.78,329.37 266.48,329.37 267.19,329.37 267.9,329.36 268.6,329.36 269.31,329.36 270.02,329.36 270.72,329.35 271.43,329.35 272.14,329.35 272.85,329.35 273.55,329.34 274.26,329.34 274.97,329.34 275.67,329.33 276.38,329.33 277.09,329.32 277.79,329.32 278.5,329.31 279.21,329.31 279.91,329.3 280.63,329.29 281.35,329.29 282.08,329.28 282.81,329.27 283.52,329.25 284.21,329.23 284.88,329.21 285.52,329.09 286.16,328.74 286.77,328.26 287.29,327.73 287.71,327.24 288.08,326.7 288.41,326.1 288.72,325.47 289.01,324.8 289.28,324.11 289.54,323.41 289.78,322.71 290.02,322.02 290.25,321.35 290.47,320.68 290.67,320.01 290.86,319.32 291.03,318.63 291.21,317.94 291.38,317.24 291.55,316.55 291.73,315.87 291.92,315.19 292.13,314.52 292.36,313.86 292.62,313.21 292.9,312.55 293.2,311.89 293.54,311.24 293.9,310.62 294.29,310.03 294.71,309.5 295.18,309.01 295.74,308.54 296.34,308.13 296.97,307.81 297.61,307.57 298.29,307.36 298.99,307.18 299.69,307.04 300.38,306.95 301.08,306.87 301.78,306.8 302.48,306.73 303.18,306.67 303.89,306.62 304.6,306.56 305.3,306.52 306.01,306.47 306.72,306.44 307.43,306.4 308.14,306.37 308.85,306.34 309.56,306.32 310.26,306.29 310.97,306.27 311.68,306.25 312.38,306.22 313.09,306.2 313.8,306.18 314.5,306.16 315.21,306.14 315.91,306.12 316.62,306.1 317.33,306.09 318.03,306.07 318.74,306.06 319.45,306.04 320.16,306.03 320.86,306.02 321.57,306.02 322.28,306.01 322.98,306 323.69,306 324.4,306" fill="none" stroke="#111" stroke-width="1.0" stroke-linejoin="round" stroke-linecap="round"/>
<polyline points="225.5,330.6 300,330.8 315,331.2 323.4,331.5" fill="none" stroke="#111" stroke-width="1.0" stroke-linejoin="round" stroke-linecap="round"/>
<polyline points="284.5,325 284.5,329 284.9,330 284.5,335" fill="none" stroke="#111" stroke-width="1.3" stroke-linejoin="round" stroke-linecap="round"/>
<line x1="224.4" y1="315" x2="224.4" y2="321.2" stroke="#111" stroke-width="1.2"/>
<path d="M224.4,325.7 L222.2,320.7 L226.6,320.7Z" fill="#111"/>
<line x1="285.1" y1="315" x2="285.1" y2="320.9" stroke="#111" stroke-width="1.2"/>
<path d="M285.1,325.8 L282.9,320.4 L287.3,320.4Z" fill="#111"/>
<text x="226" y="311.8" font-size="6.7" font-weight="bold" text-anchor="middle" textLength="13" lengthAdjust="spacingAndGlyphs">Pdpn</text>
<text x="285.3" y="313.4" font-size="6.7" font-weight="bold" text-anchor="middle" textLength="12" lengthAdjust="spacingAndGlyphs">α-Fc</text>
<text x="318.2" y="312.4" font-size="6.7" font-weight="bold" text-anchor="middle" textLength="9.7" lengthAdjust="spacingAndGlyphs">WT</text>
<text x="316.2" y="329.9" font-size="6.7" font-weight="bold" text-anchor="middle" textLength="14.5" lengthAdjust="spacingAndGlyphs">R41A</text>
<polyline points="216.2,344.7 216.2,341.2 236.1,341.2 236.1,344.7" fill="none" stroke="#111" stroke-width="0.9" stroke-linejoin="round" stroke-linecap="round"/>
<text x="226.15" y="348.1" font-size="5.8" font-weight="bold" text-anchor="middle" textLength="15.9" lengthAdjust="spacingAndGlyphs">1 min</text>
<polyline points="376.4,192.6 380.4,192.6 380.4,269.8 376.4,269.8" fill="none" stroke="#111" stroke-width="1.1" stroke-linejoin="round" stroke-linecap="round"/>
<text x="374.8" y="195.1" font-size="6.3" font-weight="bold" text-anchor="end">0</text>
<text x="374.8" y="272" font-size="6.3" font-weight="bold" text-anchor="end" textLength="6.8" lengthAdjust="spacingAndGlyphs">50</text>
<text x="377" y="230.8" font-size="6.8" font-weight="bold" text-anchor="middle" textLength="64.5" lengthAdjust="spacingAndGlyphs" transform="rotate(-90 377 230.8)">Light transmission (%)</text>
<polyline points="380.6,292.5 380.6,330.6" fill="none" stroke="#111" stroke-width="1.1" stroke-linejoin="round" stroke-linecap="round"/>
<line x1="377.1" y1="330.6" x2="380.6" y2="330.6" stroke="#111" stroke-width="1.1"/>
<text x="375.2" y="332.8" font-size="6.3" font-weight="bold" text-anchor="end" textLength="3.2" lengthAdjust="spacingAndGlyphs">0</text>
<line x1="377.1" y1="317.9" x2="380.6" y2="317.9" stroke="#111" stroke-width="1.1"/>
<text x="375.2" y="320.1" font-size="6.3" font-weight="bold" text-anchor="end" textLength="3.2" lengthAdjust="spacingAndGlyphs">1</text>
<line x1="377.1" y1="305.2" x2="380.6" y2="305.2" stroke="#111" stroke-width="1.1"/>
<text x="375.2" y="307.4" font-size="6.3" font-weight="bold" text-anchor="end" textLength="3.2" lengthAdjust="spacingAndGlyphs">2</text>
<line x1="377.1" y1="292.5" x2="380.6" y2="292.5" stroke="#111" stroke-width="1.1"/>
<text x="375.2" y="294.7" font-size="6.3" font-weight="bold" text-anchor="end" textLength="3.2" lengthAdjust="spacingAndGlyphs">3</text>
<text x="368.4" y="310.75" font-size="6.3" font-weight="bold" text-anchor="middle" textLength="32" lengthAdjust="spacingAndGlyphs" transform="rotate(-90 368.4 310.75)">ATP (nmol)</text>
<line x1="391" y1="185.6" x2="391" y2="192.7" stroke="#111" stroke-width="1.0"/>
<line x1="390.6" y1="199.5" x2="390.6" y2="206.4" stroke="#111" stroke-width="1.2"/>
<path d="M390.6,195.6 L388.4,200 L392.8,200Z" fill="#111"/>
<text x="391" y="215" font-size="6.7" font-weight="bold" text-anchor="middle" textLength="9.6" lengthAdjust="spacingAndGlyphs">Thr</text>
<polyline points="382.3,192.7 383.07,192.7 383.83,192.7 384.58,192.7 385.31,192.7 386.04,192.7 386.75,192.7 387.45,192.7 388.13,192.7 388.81,192.7 389.48,192.7 390.14,192.7 390.8,192.7 391.46,192.8 392.12,193.18 392.64,193.64 393.01,194.18 393.32,194.84 393.6,195.53 393.89,196.19 394.17,196.84 394.44,197.49 394.7,198.15 394.96,198.81 395.21,199.47 395.46,200.13 395.71,200.79 395.95,201.46 396.19,202.12 396.43,202.79 396.66,203.45 396.89,204.12 397.12,204.79 397.34,205.46 397.56,206.13 397.78,206.81 397.99,207.48 398.21,208.15 398.42,208.83 398.63,209.5 398.84,210.18 399.04,210.86 399.25,211.53 399.44,212.21 399.64,212.89 399.83,213.57 400.01,214.26 400.18,214.94 400.36,215.62 400.52,216.31 400.69,217 400.85,217.69 401.01,218.38 401.17,219.07 401.32,219.76 401.47,220.45 401.61,221.14 401.75,221.83 401.89,222.53 402.02,223.22 402.14,223.92 402.25,224.61 402.36,225.31 402.47,226.01 402.57,226.71 402.66,227.41 402.76,228.11 402.85,228.81 402.94,229.52 403.03,230.22 403.12,230.92 403.21,231.62 403.3,232.32 403.4,233.02 403.5,233.72 403.61,234.42 403.72,235.12 403.84,235.81 403.96,236.51 404.09,237.2 404.22,237.9 404.35,238.59 404.49,239.28 404.64,239.97 404.78,240.67 404.93,241.36 405.08,242.05 405.23,242.74 405.39,243.43 405.55,244.12 405.7,244.81 405.86,245.5 406.02,246.19 406.19,246.88 406.35,247.56 406.51,248.25 406.67,248.94 406.83,249.63 406.99,250.32 407.15,251.01 407.31,251.69 407.48,252.38 407.64,253.07 407.81,253.76 407.97,254.45 408.14,255.13 408.31,255.82 408.48,256.51 408.66,257.19 408.83,257.88 409.01,258.56 409.2,259.24 409.38,259.92 409.57,260.6 409.77,261.28 409.96,261.96 410.16,262.63" fill="none" stroke="#111" stroke-width="1.25" stroke-linejoin="round" stroke-linecap="round"/>
<polyline points="410.16,262.63 410.26,262.97 410.36,263.31 410.45,263.65 410.53,264 410.62,264.33 410.77,264.66" fill="none" stroke="#111" stroke-width="1.25" stroke-linejoin="round" stroke-linecap="round"/>
<polyline points="410.77,264.66 410.92,264.98 410.97,265.33 411.16,265.64 411.22,265.99 411.59,266.24 411.47,266.65" fill="none" stroke="#111" stroke-width="1.28" stroke-linejoin="round" stroke-linecap="round"/>
<polyline points="411.47,266.65 411.46,267.02 411.62,267.34 411.73,267.67 412.12,267.91 412.04,268.31 412.38,268.57" fill="none" stroke="#111" stroke-width="1.31" stroke-linejoin="round" stroke-linecap="round"/>
<polyline points="412.38,268.57 412.12,269.03 412.9,269.13 412.46,269.66 412.28,270.09 412.34,270.44 412.8,270.66" fill="none" stroke="#111" stroke-width="1.34" stroke-linejoin="round" stroke-linecap="round"/>
<polyline points="412.8,270.66 413.02,270.95 412.91,271.36 413.44,271.55 413.6,271.86 413.78,272.17 413.31,272.72" fill="none" stroke="#111" stroke-width="1.37" stroke-linejoin="round" stroke-linecap="round"/>
<polyline points="413.31,272.72 413.79,272.92 414.21,273.14 413.56,273.75 414.55,273.76 414.77,274.06 414.68,274.46" fill="none" stroke="#111" stroke-width="1.4" stroke-linejoin="round" stroke-linecap="round"/>
<polyline points="414.68,274.46 414.15,275.03 414.14,275.4 415.07,275.45 414.6,275.99 414.21,276.5 414.91,276.63" fill="none" stroke="#111" stroke-width="1.43" stroke-linejoin="round" stroke-linecap="round"/>
<polyline points="414.91,276.63 415.08,276.94 414.94,277.36 415.3,277.61 414.66,278.22 415.13,278.42 415.38,278.7" fill="none" stroke="#111" stroke-width="1.45" stroke-linejoin="round" stroke-linecap="round"/>
<polyline points="415.38,278.7 415.93,278.87 415.99,279.23 415.89,279.65 416.4,279.82 416.86,280.01 416.76,280.43" fill="none" stroke="#111" stroke-width="1.45" stroke-linejoin="round" stroke-linecap="round"/>
<polyline points="416.76,280.43 416.47,280.93 416.81,281.17 416.99,281.48 416.83,281.93 417.46,282.03 416.7,282.77" fill="none" stroke="#111" stroke-width="1.45" stroke-linejoin="round" stroke-linecap="round"/>
<polyline points="416.7,282.77 417.46,282.81 417.7,283.08 417.81,283.42 418.81,283.32 418.21,284 418.26,284.37" fill="none" stroke="#111" stroke-width="1.45" stroke-linejoin="round" stroke-linecap="round"/>
<polyline points="418.26,284.37 418.66,284.56 418.65,284.96 418.58,285.4 418.85,285.65 419.08,285.92 418.99,286.39" fill="none" stroke="#111" stroke-width="1.45" stroke-linejoin="round" stroke-linecap="round"/>
<polyline points="418.99,286.39 418.93,286.83 419.2,287.09 420.32,286.82 419.62,287.66 419.96,287.87 420.24,288.11" fill="none" stroke="#111" stroke-width="1.45" stroke-linejoin="round" stroke-linecap="round"/>
<polyline points="420.24,288.11 420.78,288.17 420.84,288.55 420.98,288.88 421.47,288.97 421.03,289.71 421.32,289.94" fill="none" stroke="#111" stroke-width="1.45" stroke-linejoin="round" stroke-linecap="round"/>
<polyline points="421.32,289.94 421.75,290.06 422.19,290.17 421.86,290.87 422.25,291.01 422.39,291.37 422.95,291.34" fill="none" stroke="#111" stroke-width="1.45" stroke-linejoin="round" stroke-linecap="round"/>
<polyline points="422.95,291.34 422.56,292.17 423.36,291.92 423.14,292.61 424.25,292.04 423.99,292.78 424.28,292.98" fill="none" stroke="#111" stroke-width="1.45" stroke-linejoin="round" stroke-linecap="round"/>
<polyline points="424.28,292.98 425.08,292.68 424.94,293.32 425.31,293.44 425.14,294.12 425.72,294.03 426.06,294.17" fill="none" stroke="#111" stroke-width="1.45" stroke-linejoin="round" stroke-linecap="round"/>
<polyline points="426.06,294.17 426.01,294.74 426.24,295.01 426.55,295.2 427.03,295.18 427.23,295.49 427.08,296.21" fill="none" stroke="#111" stroke-width="1.45" stroke-linejoin="round" stroke-linecap="round"/>
<polyline points="427.08,296.21 427.74,295.97 427.95,296.27 428.33,296.35 428.4,296.83 428.61,297.14 428.91,297.33" fill="none" stroke="#111" stroke-width="1.45" stroke-linejoin="round" stroke-linecap="round"/>
<polyline points="428.91,297.33 429.25,297.46 429.48,297.74 429.93,297.74 430.05,298.15 431.03,297.46 430.71,298.45" fill="none" stroke="#111" stroke-width="1.45" stroke-linejoin="round" stroke-linecap="round"/>
<polyline points="430.71,298.45 430.84,298.85 431.47,298.62 431.41,299.26 432.18,298.86 432.34,299.24 432.7,299.35" fill="none" stroke="#111" stroke-width="1.45" stroke-linejoin="round" stroke-linecap="round"/>
<polyline points="432.7,299.35 432.96,299.59 433.12,299.95 432.7,301 433.41,300.7 433.5,301.15 433.57,301.62" fill="none" stroke="#111" stroke-width="1.45" stroke-linejoin="round" stroke-linecap="round"/>
<polyline points="433.57,301.62 434.37,301.2 434.93,301.05 435.1,301.39 435.47,301.47 435.51,302 435.77,302.24" fill="none" stroke="#111" stroke-width="1.45" stroke-linejoin="round" stroke-linecap="round"/>
<polyline points="435.77,302.24 435.38,303.44 436.51,302.39 436.59,302.9 436.89,303.08 437.18,303.29 437.55,303.34" fill="none" stroke="#111" stroke-width="1.45" stroke-linejoin="round" stroke-linecap="round"/>
<polyline points="437.55,303.34 437.48,304.22 438.11,303.77 438.39,304 438.61,304.34 439,304.37 439.1,304.94" fill="none" stroke="#111" stroke-width="1.45" stroke-linejoin="round" stroke-linecap="round"/>
<polyline points="439.1,304.94 439.81,304.29 440,304.72 440.36,304.78 440.62,305.05 440.82,305.46 441.33,305.19" fill="none" stroke="#111" stroke-width="1.45" stroke-linejoin="round" stroke-linecap="round"/>
<polyline points="441.33,305.19 441.81,304.95 441.89,305.65 442.34,305.47 442.48,306.07 442.62,306.7 442.99,306.74" fill="none" stroke="#111" stroke-width="1.45" stroke-linejoin="round" stroke-linecap="round"/>
<polyline points="442.99,306.74 443.48,306.42 443.95,306.16 444.17,306.61 444.43,306.92 444.86,306.75 445.21,306.82" fill="none" stroke="#111" stroke-width="1.45" stroke-linejoin="round" stroke-linecap="round"/>
<polyline points="445.21,306.82 445.38,307.49 445.91,306.91 446.29,306.86 446.47,307.56 446.87,307.42" fill="none" stroke="#111" stroke-width="1.45" stroke-linejoin="round" stroke-linecap="round"/>
<text x="443.1" y="300.4" font-size="6.7" font-weight="bold" text-anchor="middle" textLength="9.6" lengthAdjust="spacingAndGlyphs">WT</text>
<line x1="456.9" y1="188" x2="456.9" y2="193.2" stroke="#111" stroke-width="1.0"/>
<line x1="456.6" y1="199.7" x2="456.6" y2="206.5" stroke="#111" stroke-width="1.2"/>
<path d="M456.6,195.8 L454.4,200.2 L458.8,200.2Z" fill="#111"/>
<text x="456.2" y="214.7" font-size="6.7" font-weight="bold" text-anchor="middle" textLength="9.3" lengthAdjust="spacingAndGlyphs">Thr</text>
<polyline points="446.2,193.2 446.94,193.2 447.67,193.2 448.4,193.2 449.12,193.2 449.83,193.2 450.55,193.2 451.25,193.2 451.95,193.2 452.65,193.2 453.34,193.2 454.03,193.2 454.72,193.2 455.4,193.2 456.08,193.2 456.76,193.2 457.46,193.27 458.17,193.53 458.8,193.86 459.27,194.21 459.69,194.64 460.09,195.14 460.46,195.7 460.81,196.32 461.13,196.98 461.44,197.67 461.72,198.39 461.99,199.12 462.24,199.85 462.48,200.57 462.7,201.27 462.91,201.95 463.11,202.61 463.3,203.27 463.48,203.94 463.66,204.62 463.82,205.3 463.97,205.98 464.12,206.67 464.27,207.36 464.41,208.05 464.54,208.74 464.68,209.44 464.81,210.14 464.94,210.84 465.06,211.53 465.19,212.23 465.32,212.93 465.46,213.63 465.59,214.32 465.73,215.01 465.88,215.7 466.03,216.39 466.18,217.08 466.33,217.76 466.48,218.45 466.63,219.14 466.78,219.82 466.93,220.51 467.08,221.2 467.23,221.89 467.39,222.57 467.54,223.26 467.69,223.95 467.84,224.64 467.98,225.32 468.13,226.01 468.28,226.7 468.42,227.39 468.57,228.08 468.71,228.76 468.85,229.45 468.99,230.14 469.13,230.83 469.26,231.52 469.39,232.21 469.53,232.9 469.66,233.6 469.79,234.29 469.91,234.98 470.04,235.67 470.17,236.36 470.3,237.05 470.42,237.75 470.55,238.44 470.68,239.13 470.8,239.82 470.93,240.51 471.06,241.21 471.19,241.9 471.32,242.59 471.45,243.28 471.58,243.97 471.72,244.66 471.85,245.35 471.99,246.04 472.13,246.73 472.27,247.42 472.41,248.11 472.55,248.8 472.69,249.49 472.84,250.18 472.98,250.86 473.13,251.55 473.27,252.24 473.42,252.93 473.56,253.62 473.71,254.31 473.86,254.99 474,255.68 474.15,256.37 474.3,257.06 474.45,257.75 474.59,258.43 474.74,259.12 474.89,259.81 475.03,260.5 475.17,261.19 475.31,261.88 475.44,262.58" fill="none" stroke="#111" stroke-width="1.25" stroke-linejoin="round" stroke-linecap="round"/>
<polyline points="475.44,262.58 475.51,262.92 475.58,263.26 475.67,263.6 475.76,263.94 475.77,264.3 475.88,264.63" fill="none" stroke="#111" stroke-width="1.25" stroke-linejoin="round" stroke-linecap="round"/>
<polyline points="475.88,264.63 475.95,264.97 475.99,265.32 475.9,265.7 476.28,265.98 476.1,266.37 476.43,266.67" fill="none" stroke="#111" stroke-width="1.28" stroke-linejoin="round" stroke-linecap="round"/>
<polyline points="476.43,266.67 476.14,267.08 476.33,267.4 476.27,267.77 476.37,268.11 476.6,268.42 476.58,268.78" fill="none" stroke="#111" stroke-width="1.31" stroke-linejoin="round" stroke-linecap="round"/>
<polyline points="476.58,268.78 476.74,269.11 476.67,269.48 476.4,269.9 477.13,270.09 477.17,270.44 477.08,270.82" fill="none" stroke="#111" stroke-width="1.34" stroke-linejoin="round" stroke-linecap="round"/>
<polyline points="477.08,270.82 477.27,271.14 477.75,271.38 476.57,272.04 477.93,272.05 478.02,272.39 477.95,272.77" fill="none" stroke="#111" stroke-width="1.37" stroke-linejoin="round" stroke-linecap="round"/>
<polyline points="477.95,272.77 477.64,273.22 477.45,273.64 478.02,273.84 478.16,274.16 478.13,274.54 478.38,274.82" fill="none" stroke="#111" stroke-width="1.4" stroke-linejoin="round" stroke-linecap="round"/>
<polyline points="478.38,274.82 478.38,275.19 478.82,275.41 477.91,276.11 478.64,276.22 479.56,276.25 479.03,276.82" fill="none" stroke="#111" stroke-width="1.43" stroke-linejoin="round" stroke-linecap="round"/>
<polyline points="479.03,276.82 479.08,277.18 479.1,277.55 479.61,277.72 479.89,277.98 479.92,278.35 479.64,278.84" fill="none" stroke="#111" stroke-width="1.45" stroke-linejoin="round" stroke-linecap="round"/>
<polyline points="479.64,278.84 480.16,279 480.28,279.33 479.89,279.88 480.56,279.97 480.73,280.28 480.65,280.7" fill="none" stroke="#111" stroke-width="1.45" stroke-linejoin="round" stroke-linecap="round"/>
<polyline points="480.65,280.7 480.72,281.05 480.63,281.47 481.3,281.56 481.63,281.79 481.38,282.29 481.32,282.7" fill="none" stroke="#111" stroke-width="1.45" stroke-linejoin="round" stroke-linecap="round"/>
<polyline points="481.32,282.7 481.44,283.03 481.92,283.2 481.84,283.62 482.01,283.93 481.6,284.5 482.43,284.5" fill="none" stroke="#111" stroke-width="1.45" stroke-linejoin="round" stroke-linecap="round"/>
<polyline points="482.43,284.5 482.73,284.75 482.91,285.05 482.5,285.64 483.26,285.66 482.79,286.28 483.62,286.26" fill="none" stroke="#111" stroke-width="1.45" stroke-linejoin="round" stroke-linecap="round"/>
<polyline points="483.62,286.26 482.65,287.14 484.05,286.82 483.33,287.59 484.15,287.55 484.12,287.97 484.28,288.28" fill="none" stroke="#111" stroke-width="1.45" stroke-linejoin="round" stroke-linecap="round"/>
<polyline points="484.28,288.28 484.6,288.49 484.61,288.9 484.77,289.21 485.32,289.27 485.02,289.89 485.2,290.19" fill="none" stroke="#111" stroke-width="1.45" stroke-linejoin="round" stroke-linecap="round"/>
<polyline points="485.2,290.19 485.86,290.15 485.66,290.73 485.98,290.93 486.02,291.35 486.26,291.6 486.65,291.74" fill="none" stroke="#111" stroke-width="1.45" stroke-linejoin="round" stroke-linecap="round"/>
<polyline points="486.65,291.74 486.96,291.94 486.88,292.46 487.24,292.62 487.88,292.54 487.88,292.99 488.09,293.28" fill="none" stroke="#111" stroke-width="1.45" stroke-linejoin="round" stroke-linecap="round"/>
<polyline points="488.09,293.28 488.26,293.59 487.9,294.34 488.74,294.11 488.76,294.54 488.7,295.04 489.19,295.09" fill="none" stroke="#111" stroke-width="1.45" stroke-linejoin="round" stroke-linecap="round"/>
<polyline points="489.19,295.09 489.42,295.35 489.44,295.79 489.92,295.86 490.14,296.13 490.25,296.5 490.53,296.71" fill="none" stroke="#111" stroke-width="1.45" stroke-linejoin="round" stroke-linecap="round"/>
<polyline points="490.53,296.71 491.01,296.77 491.85,296.52 491.33,297.41 491.23,297.98 491.82,297.91 491.76,298.45" fill="none" stroke="#111" stroke-width="1.45" stroke-linejoin="round" stroke-linecap="round"/>
<polyline points="491.76,298.45 492.16,298.56 493.03,298.19 493.3,298.4 492.96,299.26 493.32,299.38 493.84,299.32" fill="none" stroke="#111" stroke-width="1.45" stroke-linejoin="round" stroke-linecap="round"/>
<polyline points="493.84,299.32 493.68,300.03 493.63,300.64 494.25,300.45 494.7,300.45 494.82,300.86 494.81,301.43" fill="none" stroke="#111" stroke-width="1.45" stroke-linejoin="round" stroke-linecap="round"/>
<polyline points="494.81,301.43 495.21,301.5 495.67,301.49 496.22,301.33 496.21,301.93 496.52,302.1 496.85,302.23" fill="none" stroke="#111" stroke-width="1.45" stroke-linejoin="round" stroke-linecap="round"/>
<polyline points="496.85,302.23 497.34,302.15 497.22,302.95 497.81,302.69 497.72,303.47 498.38,303.09 498.56,303.46" fill="none" stroke="#111" stroke-width="1.45" stroke-linejoin="round" stroke-linecap="round"/>
<polyline points="498.56,303.46 498.87,303.62 499.14,303.85 499.07,304.68 499.85,304.04 499.77,304.88 500.29,304.68" fill="none" stroke="#111" stroke-width="1.45" stroke-linejoin="round" stroke-linecap="round"/>
<polyline points="500.29,304.68 500.79,304.5 500.82,305.18 501.18,305.24 501.48,305.44 502.11,304.99 502.17,305.64" fill="none" stroke="#111" stroke-width="1.45" stroke-linejoin="round" stroke-linecap="round"/>
<polyline points="502.17,305.64 502.6,305.56 502.88,305.78 503.19,305.94 503.49,306.14 503.33,307.3 503.81,307.12" fill="none" stroke="#111" stroke-width="1.45" stroke-linejoin="round" stroke-linecap="round"/>
<polyline points="503.81,307.12 504.67,306.06 504.62,307.05 505.08,306.86 505.4,307.01 505.94,306.59 506.26,306.73" fill="none" stroke="#111" stroke-width="1.45" stroke-linejoin="round" stroke-linecap="round"/>
<polyline points="506.26,306.73 506.45,307.21 506.63,307.74 507.22,307.09 507.31,307.94 507.76,307.7 508.22,307.39" fill="none" stroke="#111" stroke-width="1.45" stroke-linejoin="round" stroke-linecap="round"/>
<polyline points="508.22,307.39 508.11,308.92 508.69,308.24 509.09,308.12 509.44,308.16 509.81,308.17 510.22,308.01" fill="none" stroke="#111" stroke-width="1.45" stroke-linejoin="round" stroke-linecap="round"/>
<polyline points="510.22,308.01 510.32,308.91 510.75,308.69 510.95,309.27 511.38,309.03 511.63,309.46 512,309.43" fill="none" stroke="#111" stroke-width="1.45" stroke-linejoin="round" stroke-linecap="round"/>
<polyline points="512,309.43 512.34,309.54 512.8,309.14 513.01,309.77 513.36,309.79 513.79,309.52 514.12,309.63" fill="none" stroke="#111" stroke-width="1.45" stroke-linejoin="round" stroke-linecap="round"/>
<polyline points="514.12,309.63 514.25,310.67 514.87,309.51 515.29,309.18 515.45,310.13 515.72,310.6 516.3,309.47" fill="none" stroke="#111" stroke-width="1.45" stroke-linejoin="round" stroke-linecap="round"/>
<polyline points="516.3,309.47 516.64,309.5 516.94,309.81 517.24,310.13 517.51,310.63 517.88,310.59 518.29,310.22" fill="none" stroke="#111" stroke-width="1.45" stroke-linejoin="round" stroke-linecap="round"/>
<polyline points="518.29,310.22 518.62,310.37 519.08,309.5 519.28,310.74 519.67,310.41 520.01,310.49" fill="none" stroke="#111" stroke-width="1.45" stroke-linejoin="round" stroke-linecap="round"/>
<text x="509.4" y="297.4" font-size="6.7" font-weight="bold" text-anchor="middle" textLength="14.8" lengthAdjust="spacingAndGlyphs">R41A</text>
<polyline points="382.2,330.6 386.6,330.6 387.9,333.6 389.2,330.2 391.3,329.7" fill="none" stroke="#111" stroke-width="1.1" stroke-linejoin="round" stroke-linecap="round"/>
<polyline points="391.3,329.7 391.65,329.07 391.98,328.44 392.29,327.79 392.55,327.14 392.78,326.47 392.98,325.79 393.17,325.1 393.34,324.41 393.51,323.71 393.66,323.01 393.81,322.31 393.96,321.62 394.1,320.92 394.22,320.22 394.34,319.51 394.46,318.81 394.56,318.1 394.67,317.39 394.78,316.68 394.88,315.98 394.99,315.27 395.1,314.57 395.22,313.87 395.35,313.17 395.49,312.47 395.64,311.78 395.8,311.09 395.96,310.38 396.14,309.67 396.32,308.95 396.52,308.24 396.73,307.53 396.95,306.83 397.19,306.15 397.44,305.48 397.71,304.85 398.01,304.24 398.32,303.67 398.69,303.12 399.13,302.57 399.63,302.05 400.17,301.54 400.75,301.06 401.35,300.61 401.95,300.2 402.55,299.83 403.15,299.5 403.79,299.19 404.44,298.9 405.12,298.63 405.8,298.39 406.48,298.16 407.16,297.95 407.85,297.76 408.53,297.57 409.23,297.4 409.92,297.24 410.62,297.09 411.32,296.95 412.02,296.81 412.72,296.69 413.42,296.56 414.13,296.44 414.83,296.33 415.53,296.22 416.24,296.12 416.94,296.02 417.65,295.92 418.36,295.82 419.06,295.72 419.77,295.63 420.48,295.54 421.18,295.45 421.89,295.37 422.6,295.29 423.31,295.21 424.02,295.13 424.73,295.05 425.43,294.97 426.14,294.89 426.85,294.81 427.56,294.72 428.26,294.62 428.97,294.52 429.67,294.41 430.38,294.3 431.08,294.19 431.78,294.08 432.49,293.96 433.19,293.86 433.9,293.75 434.6,293.65 435.31,293.56 436.02,293.47 436.72,293.38 437.43,293.3 438.14,293.22 438.85,293.13 439.55,293.06 440.26,292.98 440.97,292.91 441.68,292.83 442.39,292.77 443.1,292.7" fill="none" stroke="#111" stroke-width="1.0" stroke-linejoin="round" stroke-linecap="round"/>
<line x1="387.9" y1="316.7" x2="387.9" y2="323.2" stroke="#111" stroke-width="1.2"/>
<path d="M387.9,327.1 L385.7,322.7 L390.1,322.7Z" fill="#111"/>
<text x="387.9" y="314.7" font-size="6.7" font-weight="bold" text-anchor="middle" textLength="8.8" lengthAdjust="spacingAndGlyphs">Thr</text>
<polyline points="452.3,329.6 455.4,329.6" fill="none" stroke="#111" stroke-width="1.0" stroke-linejoin="round" stroke-linecap="round"/>
<polyline points="456.6,327.5 456.6,336.5" fill="none" stroke="#111" stroke-width="1.3" stroke-linejoin="round" stroke-linecap="round"/>
<polyline points="455.4,329.6 456.14,329.91 456.85,330.06 457.5,330.1 458.12,330.01 458.72,329.64 459.28,329.07 459.76,328.46 460.13,327.89 460.46,327.31 460.76,326.69 461.04,326.04 461.29,325.36 461.52,324.67 461.74,323.96 461.94,323.25 462.13,322.55 462.31,321.86 462.48,321.18 462.63,320.49 462.78,319.8 462.91,319.1 463.04,318.41 463.17,317.71 463.29,317 463.41,316.3 463.53,315.6 463.66,314.9 463.8,314.21 463.94,313.51 464.07,312.81 464.2,312.11 464.33,311.41 464.46,310.71 464.6,310.02 464.74,309.32 464.88,308.63 465.04,307.94 465.2,307.25 465.38,306.57 465.57,305.88 465.77,305.19 465.98,304.48 466.2,303.78 466.44,303.09 466.7,302.41 466.98,301.76 467.28,301.14 467.6,300.56 467.96,300.01 468.39,299.44 468.87,298.87 469.41,298.31 469.98,297.79 470.57,297.33 471.19,296.94 471.81,296.65 472.42,296.47 473.06,296.34 473.73,296.22 474.43,296.11 475.15,296.02 475.88,295.94 476.61,295.87 477.35,295.83 478.07,295.8 478.78,295.8 479.49,295.81 480.2,295.82 480.91,295.85 481.62,295.88 482.33,295.92 483.04,295.96 483.75,296.01 484.46,296.06 485.16,296.11 485.87,296.17 486.56,296.24 487.26,296.34 487.95,296.48 488.64,296.64 489.33,296.82 490.02,297.01 490.71,297.2 491.4,297.38 492.09,297.55 492.78,297.71 493.47,297.86 494.17,298.01 494.86,298.17 495.55,298.32 496.24,298.47 496.94,298.62 497.63,298.77 498.32,298.92 499.02,299.06 499.71,299.21 500.4,299.36 501.1,299.51 501.79,299.66 502.48,299.81 503.17,299.96 503.87,300.11 504.56,300.26 505.25,300.41 505.95,300.56 506.64,300.71 507.33,300.86 508.03,301.01 508.72,301.15 509.41,301.3 510.11,301.45 510.8,301.6" fill="none" stroke="#111" stroke-width="1.0" stroke-linejoin="round" stroke-linecap="round"/>
<line x1="456.9" y1="312.7" x2="456.9" y2="318.8" stroke="#111" stroke-width="1.2"/>
<path d="M456.9,322.7 L454.7,318.3 L459.1,318.3Z" fill="#111"/>
<text x="456.5" y="310.4" font-size="6.7" font-weight="bold" text-anchor="middle" textLength="8.8" lengthAdjust="spacingAndGlyphs">Thr</text>
<polyline points="378.9,344.7 378.9,341.2 400.1,341.2 400.1,344.7" fill="none" stroke="#111" stroke-width="0.9" stroke-linejoin="round" stroke-linecap="round"/>
<text x="389.5" y="348" font-size="5.8" font-weight="bold" text-anchor="middle" textLength="17.2" lengthAdjust="spacingAndGlyphs">1 min</text>
<text x="0.5" y="384.4" font-size="11.8" font-weight="bold" textLength="7.6" lengthAdjust="spacingAndGlyphs">B</text>
<polyline points="35.6,382.5 35.6,466.4" fill="none" stroke="#111" stroke-width="1.2" stroke-linejoin="round" stroke-linecap="round"/>
<line x1="32.2" y1="466.4" x2="35.6" y2="466.4" stroke="#111" stroke-width="1.1"/>
<text x="31.8" y="468.5" font-size="6.0" font-weight="bold" text-anchor="end" textLength="3" lengthAdjust="spacingAndGlyphs">0</text>
<line x1="32.2" y1="449.62" x2="35.6" y2="449.62" stroke="#111" stroke-width="1.1"/>
<text x="31.8" y="451.72" font-size="6.0" font-weight="bold" text-anchor="end" textLength="5.9" lengthAdjust="spacingAndGlyphs">10</text>
<line x1="32.2" y1="432.84" x2="35.6" y2="432.84" stroke="#111" stroke-width="1.1"/>
<text x="31.8" y="434.94" font-size="6.0" font-weight="bold" text-anchor="end" textLength="5.9" lengthAdjust="spacingAndGlyphs">20</text>
<line x1="32.2" y1="416.06" x2="35.6" y2="416.06" stroke="#111" stroke-width="1.1"/>
<text x="31.8" y="418.16" font-size="6.0" font-weight="bold" text-anchor="end" textLength="5.9" lengthAdjust="spacingAndGlyphs">30</text>
<line x1="32.2" y1="399.28" x2="35.6" y2="399.28" stroke="#111" stroke-width="1.1"/>
<text x="31.8" y="401.38" font-size="6.0" font-weight="bold" text-anchor="end" textLength="5.9" lengthAdjust="spacingAndGlyphs">40</text>
<line x1="32.2" y1="382.5" x2="35.6" y2="382.5" stroke="#111" stroke-width="1.1"/>
<text x="31.8" y="384.6" font-size="6.0" font-weight="bold" text-anchor="end" textLength="5.9" lengthAdjust="spacingAndGlyphs">50</text>
<text x="20.2" y="424" font-size="5.6" font-weight="bold" text-anchor="middle" textLength="11" lengthAdjust="spacingAndGlyphs" transform="rotate(-90 20.2 424)">MFI</text>
<polyline points="35,466.4 161.5,466.4" fill="none" stroke="#111" stroke-width="1.3" stroke-linejoin="round" stroke-linecap="round"/>
<line x1="56.5" y1="466.4" x2="56.5" y2="468.9" stroke="#111" stroke-width="1.1"/>
<line x1="98.3" y1="466.4" x2="98.3" y2="468.9" stroke="#111" stroke-width="1.1"/>
<line x1="140.7" y1="466.4" x2="140.7" y2="468.9" stroke="#111" stroke-width="1.1"/>
<line x1="47.7" y1="460.2" x2="47.7" y2="461.2" stroke="#111" stroke-width="1.0"/>
<line x1="43.5" y1="460.2" x2="51.9" y2="460.2" stroke="#111" stroke-width="1.0"/>
<rect x="40.2" y="461.5" width="15.7" height="4.9" fill="#fff" stroke="#111" stroke-width="1.2"/>
<rect x="56.5" y="462.2" width="17.4" height="4.2" fill="#111"/>
<line x1="90.2" y1="392.3" x2="90.2" y2="421" stroke="#111" stroke-width="1.0"/>
<line x1="85.7" y1="392.3" x2="94.7" y2="392.3" stroke="#111" stroke-width="1.0"/>
<rect x="82.3" y="421.6" width="15.4" height="44.8" fill="#fff" stroke="#111" stroke-width="1.2"/>
<rect x="98.3" y="461.8" width="17.2" height="4.6" fill="#111"/>
<line x1="132" y1="395.2" x2="132" y2="410.7" stroke="#111" stroke-width="1.0"/>
<line x1="127.5" y1="395.2" x2="136.5" y2="395.2" stroke="#111" stroke-width="1.0"/>
<rect x="124.1" y="411.3" width="16" height="55.1" fill="#fff" stroke="#111" stroke-width="1.2"/>
<rect x="140.7" y="461.8" width="16.8" height="4.6" fill="#111"/>
<text x="106.5" y="459.5" font-size="8.5" font-weight="bold" text-anchor="middle">*</text>
<text x="148.4" y="459.5" font-size="8.5" font-weight="bold" text-anchor="middle">*</text>
<text x="56.5" y="475" font-size="6.4" font-weight="bold" text-anchor="middle" textLength="16.8" lengthAdjust="spacingAndGlyphs">Basal</text>
<text x="98.4" y="475" font-size="6.4" font-weight="bold" text-anchor="middle" textLength="12" lengthAdjust="spacingAndGlyphs">CRP</text>
<text x="140.4" y="475" font-size="6.4" font-weight="bold" text-anchor="middle" textLength="14.2" lengthAdjust="spacingAndGlyphs">mAb</text>
<rect x="62.5" y="484.8" width="8.9" height="4.2" fill="#fff" stroke="#111" stroke-width="1.25"/>
<text x="76.5" y="489.6" font-size="8" font-weight="bold" textLength="10.4" lengthAdjust="spacingAndGlyphs">WT</text>
<rect x="94.2" y="484.2" width="10.8" height="5.3" fill="#111"/>
<text x="108.7" y="489.6" font-size="8" font-weight="bold" textLength="17.8" lengthAdjust="spacingAndGlyphs">R41A</text>
<text x="169.2" y="385.4" font-size="11.8" font-weight="bold" textLength="8.3" lengthAdjust="spacingAndGlyphs">C</text>
<text x="186.4" y="384.7" font-size="13" font-weight="bold" textLength="7.4" lengthAdjust="spacingAndGlyphs">i)</text>
<text x="251.6" y="383.8" font-size="9.8" font-weight="bold" text-anchor="middle" textLength="15.6" lengthAdjust="spacingAndGlyphs">WT</text>
<text x="339" y="383.8" font-size="9.8" font-weight="bold" text-anchor="middle" textLength="25" lengthAdjust="spacingAndGlyphs">R41A</text>
<text x="208.4" y="415.5" font-size="10.2" font-weight="bold" text-anchor="middle" textLength="42" lengthAdjust="spacingAndGlyphs" transform="rotate(-90 208.4 415.5)">Collagen</text>
<text x="208" y="475.4" font-size="10.2" font-weight="bold" text-anchor="middle" textLength="51.5" lengthAdjust="spacingAndGlyphs" transform="rotate(-90 208 475.4)">CLEC-2 Ab</text>
<g clip-path="url(#c1)"><g filter="url(#dc1)"><rect x="211.8" y="388.7" width="80.5" height="52.8" fill="#000" fill-opacity="0.02"/><path d="M211,440 C220,437 230,435.5 245,435 S275,434 293,433.5" fill="none" stroke="#000" stroke-opacity="0.7" stroke-width="2.2" stroke-linecap="round"/><path d="M222,440.5 C240,439 260,438 293,437.5" fill="none" stroke="#000" stroke-opacity="0.7" stroke-width="1.8" stroke-linecap="round"/><path d="M233.4,433 C236,426 239,421 242,417 S249,410 253,407" fill="none" stroke="#000" stroke-opacity="0.4" stroke-width="1.6" stroke-linecap="round"/><path d="M245,434 C251,428 256,421 259,418 S263,410 266,406 S272,396 276,389" fill="none" stroke="#000" stroke-opacity="0.45" stroke-width="1.6" stroke-linecap="round"/><path d="M213,433 C212,425 213,419 216,417 S225,416 230,419 S234,426 235,431" fill="none" stroke="#000" stroke-opacity="0.45" stroke-width="1.4" stroke-linecap="round"/><path d="M228.5,389 C226,396 222,403 213,411" fill="none" stroke="#000" stroke-opacity="0.4" stroke-width="1.2" stroke-linecap="round"/><path d="M233,410 L234.68,407.88 L237.79,405.38 L237,405 L239.2,404.55 L240.05,405.19 L242,404 L241.88,403.55 L244.58,406.06 L246,405 L247.07,406.72 L246.51,406.01 L249,408 L249.44,408.83 L248.28,411.25 L248,412 L244.57,411.71 L244.59,412.1 L243,414 L241.1,414.63 L239.8,415.12 L239,416 L237.7,416.4 L237.6,414.35 L235,414 L233.67,413.38 L234.08,411.53 Z" fill="#000" fill-opacity="0.35"/><path d="M258,414 L258.18,412.91 L260.78,409.06 L261,409 L263.25,407.93 L263,405.58 L265,406 L266.03,406.28 L267.33,405.58 L269,407 L268.92,408.97 L271.04,409.92 L272,411 L273.23,412.98 L274.89,413.6 L274,415 L273.43,415.47 L273.56,417.9 L273,419 L270.98,419.97 L270.32,424.3 L269,422 L266.54,423.12 L265.37,421.92 L263,422 L262.03,420.99 L260.3,419.11 L259,418 L258.33,416.32 L258.58,415.23 Z" fill="#000" fill-opacity="0.35"/></g>
<g filter="url(#bl)"><circle cx="226.5" cy="424.5" r="3.5" fill="#444" fill-opacity="0.8" filter="url(#bl2)"/><circle cx="234.5" cy="404.5" r="3" fill="#333" fill-opacity="0.9" filter="url(#bl2)"/><path d="M211,440 C220,437 230,435.5 245,435 S275,434 293,433.5" fill="none" stroke="#f0f0f0" stroke-width="0.9" stroke-opacity="1" stroke-linecap="round"/><path d="M222,440.5 C240,439 260,438 293,437.5" fill="none" stroke="#e8e8e8" stroke-width="0.8" stroke-opacity="1" stroke-linecap="round"/><path d="M245,434 C251,428 256,421 259,418 S263,410 266,406 S272,396 276,389" fill="none" stroke="#f0f0f0" stroke-width="0.8" stroke-opacity="1" stroke-linecap="round"/><path d="M233.4,433 C236,426 239,421 242,417 S249,410 253,407" fill="none" stroke="#eee" stroke-width="0.7" stroke-opacity="1" stroke-linecap="round"/><path d="M238,410 L240.08,409.83 L241,408 L242.97,408.32 L245,409 L246.79,410.46 L247,412 L245.63,412.77 L244,414 L242.08,414.78 L240,414 L239.54,411.34 Z" fill="#f2f2f2" fill-opacity="0.45"/><circle cx="236" cy="407" r="3.2" fill="#2a2a2a" fill-opacity="0.75" filter="url(#bl2)"/><circle cx="241" cy="404" r="2" fill="#333" fill-opacity="0.6" filter="url(#bl2)"/><path d="M262,418 L262.49,415.76 L264,414 L265.82,414.42 L268,414 L267.72,416.27 L270,417 L268.31,419.12 L268,420 L265.24,420.38 L264,421 L263.52,419.52 Z" fill="#f2f2f2" fill-opacity="0.45"/><circle cx="264.5" cy="414.5" r="2.6" fill="#2a2a2a" fill-opacity="0.7" filter="url(#bl2)"/><circle cx="264.5" cy="413.5" r="1.6" fill="#222" fill-opacity="1"/><circle cx="237" cy="406" r="1.8" fill="#222" fill-opacity="1"/></g></g>
<rect x="211.8" y="388.7" width="80.5" height="52.8" fill="none" stroke="#2a2a2a" stroke-width="1.2"/>
<g clip-path="url(#c2)"><g filter="url(#dc2)"><rect x="298.9" y="388.7" width="81" height="52.8" fill="#000" fill-opacity="0.02"/><path d="M299,402 C312,399 330,395 349,390.5" fill="none" stroke="#000" stroke-opacity="0.4" stroke-width="1.6" stroke-linecap="round"/><path d="M350,390 C358,393 368,396 381,401" fill="none" stroke="#000" stroke-opacity="0.4" stroke-width="1.6" stroke-linecap="round"/><path d="M353,392 C360,393 370,394 381,396" fill="none" stroke="#000" stroke-opacity="0.35" stroke-width="1.2" stroke-linecap="round"/><path d="M299,392.5 C310,392 320,391.8 330,391.5" fill="none" stroke="#000" stroke-opacity="0.4" stroke-width="1.4" stroke-linecap="round"/><path d="M312,417 C313,425 314,432 316,441" fill="none" stroke="#000" stroke-opacity="0.4" stroke-width="1.2" stroke-linecap="round"/><path d="M341,400 c1,-4 5,-6 8,-5 c2,2 1,6 -2,8 c-3,1 -6,0 -6,-3 z" fill="#000" fill-opacity="0.35"/><path d="M329,410 c1,-4 5,-5 8,-3 c3,2 3,7 0,9 c-3,1 -7,0 -8,-3 z" fill="#000" fill-opacity="0.35"/><path d="M358,407 c3,-2 9,-3 14,-2 c3,1 4,3 1,5 c-4,2 -9,4 -12,3 c-2,-1 -4,-3 -3,-6 z" fill="#000" fill-opacity="0.35"/><path d="M302,419 c1,-4 5,-5 8,-3 c2,2 2,6 0,8 c-3,2 -7,1 -8,-2 z" fill="#000" fill-opacity="0.35"/><path d="M303.5,433 c1,-4 5,-5 8,-3 c2,2 2,6 0,9 c-3,2 -7,1 -8,-3 z" fill="#000" fill-opacity="0.35"/></g>
<g filter="url(#bl)"><circle cx="320" cy="411" r="5" fill="#e4e4e4" fill-opacity="0.9" filter="url(#bl2)"/><circle cx="357.6" cy="420.5" r="2" fill="#1a1a1a" fill-opacity="0.8"/><circle cx="357.6" cy="420.5" r="3.2" fill="#333" fill-opacity="0.7" filter="url(#bl2)"/><circle cx="315" cy="394" r="8" fill="#c8c8c8" fill-opacity="0.5" filter="url(#bl2)"/><path d="M299,402 C312,399 330,395 349,390.5" fill="none" stroke="#f4f4f4" stroke-width="1.0" stroke-opacity="1" stroke-linecap="round"/><path d="M350,390 C358,393 368,396 381,401" fill="none" stroke="#f4f4f4" stroke-width="1.0" stroke-opacity="1" stroke-linecap="round"/><path d="M299,391.5 C310,391 320,390.8 330,390.5" fill="none" stroke="#e8e8e8" stroke-width="0.9" stroke-opacity="1" stroke-linecap="round"/><path d="M342,401 c1,-3 4,-4 6,-3 c1,2 0,4 -2,5 c-2,1 -4,0 -4,-2 z" fill="#f6f6f6" fill-opacity="1"/><path d="M342.5,399.5 c1,-2 3,-3 4,-2 c0,2 -2,3 -4,2 z" fill="#151515" fill-opacity="1"/><path d="M330,411 c1,-3 4,-4 6,-2 c2,2 2,5 0,6 c-2,1 -5,0 -6,-2 z" fill="#f6f6f6" fill-opacity="1"/><path d="M330.5,409 c1,-2 3,-3 5,-2 c1,1 0,3 -2,4 c-2,0 -3,0 -3,-2 z" fill="#151515" fill-opacity="1"/><path d="M360,408 c3,-2 8,-2 12,-1 c2,1 2,2 0,3 c-3,2 -7,3 -10,2 c-1,-1 -2,-2 -2,-4 z" fill="#f6f6f6" fill-opacity="1"/><path d="M360.5,407.5 c2,-1 5,-1 6,0 c-1,2 -3,3 -5,3 c-1,0 -2,-1 -1,-3 z" fill="#151515" fill-opacity="1"/><path d="M367,406.8 c2,-1 4,-1 5,0 c-1,1 -3,2 -5,1 z" fill="#151515" fill-opacity="1"/><path d="M303,420 c1,-3 4,-4 6,-2 c2,2 1,4 0,6 c-2,1 -5,1 -6,-2 z" fill="#f6f6f6" fill-opacity="1"/><path d="M303.5,417.5 c1,-1 3,-2 4,-1 c0,2 -2,3 -3,3 z" fill="#151515" fill-opacity="1"/><path d="M304.5,434 c1,-3 4,-4 6,-2 c2,2 1,5 0,7 c-2,1 -5,1 -6,-3 z" fill="#f6f6f6" fill-opacity="1"/><path d="M305,432 c1,-1 3,-2 4,-1 c0,2 -2,3 -3,3 z" fill="#151515" fill-opacity="1"/></g></g>
<rect x="298.9" y="388.7" width="81" height="52.8" fill="none" stroke="#2a2a2a" stroke-width="1.2"/>
<g clip-path="url(#c3)"><g filter="url(#dc3)"><rect x="212.2" y="451.1" width="80.3" height="53.6" fill="#000" fill-opacity="0.02"/><path d="M223,466 L225.6,467.01 L225.92,463.22 L228,463 L228.73,461.46 L231.12,461.05 L233,462 L232.55,460.81 L237.62,460.88 L238,460 L238.3,458.29 L241.31,458.16 L242,457 L242.67,457.39 L244.24,455.68 L245,455.5 L245.33,456.58 L246.68,456.3 L246,458 L245.22,459.43 L243.06,460.79 L244,463 L242.38,465.41 L243.17,467.89 L243,470 L242.86,471.03 L242.31,475.01 L242,477 L242.07,479.34 L240.18,481.84 L240,484 L239.72,484.84 L235.97,485.72 L236,486 L234.69,484.33 L232.99,482.69 L232,481 L230.73,478.18 L229.96,477.42 L228,476 L226.88,474.01 L227.12,473.47 L225,471 L225.5,469.07 L222.55,467.42 Z" fill="#000" fill-opacity="0.38"/><path d="M228.33,467.05 L230.33,467.57 L229.55,466.98 L231.33,465.25 L231.03,464.95 L233.41,466.17 L234.33,464.65 L233.63,462.91 L234.24,462.92 L237.33,463.45 L236.28,463.16 L237.84,461.58 L239.73,461.65 L242.15,461.74 L240.39,461.49 L241.53,460.75 L242.25,462.29 L241.22,461.95 L242.13,462.25 L241.68,463.13 L240.9,464.96 L240.93,465.25 L241.37,465.19 L239.85,467.92 L240.33,469.45 L240.82,471.03 L240.68,472.05 L239.73,473.65 L238.83,475.2 L240.11,475.83 L238.53,477.85 L237.35,477.58 L236.81,479.5 L236.13,479.05 L235.31,477.86 L234.16,475.94 L233.73,476.05 L232.66,472.46 L232.32,473.5 L231.33,473.05 L231.17,472.05 L230.06,470.28 L229.53,470.05 L229.95,469.83 L227.55,468.13 Z" fill="#000" fill-opacity="0.25"/><path d="M270,472 L272.2,473.46 L271.22,473.14 L273,476 L275.41,476.25 L274.05,479.47 L277,480 L278.77,481.34 L279.94,482.56 L281,484 L282.03,485.36 L282.47,486.66 L283,488 L282.74,488.76 L281.78,489.25 L281,492 L278.96,493.6 L277.55,492.86 L276,494 L273.68,494.2 L271.34,494.67 L270,493 L268.69,492.29 L269.05,492.61 L266,490 L265.24,487.79 L265.06,486.79 L265,485 L266.59,482.37 L266.34,479.97 L267,479 L269.13,477.64 L267.14,474.48 Z" fill="#000" fill-opacity="0.38"/><path d="M271.42,477.13 L271.78,478.06 L272.83,478.69 L273.22,479.53 L274.43,480.12 L275.98,482.05 L275.62,481.93 L274.26,483.62 L277.29,482.44 L278.02,484.33 L278.06,485.45 L279.82,487.03 L279.22,486.73 L278.45,487.34 L279.44,488.41 L278.02,489.13 L276.66,487.63 L276.53,490.22 L275.02,490.33 L273.44,490.09 L271.16,490.35 L271.42,489.73 L271.85,490.09 L268.98,487.85 L269.02,487.93 L268.3,486.5 L269.04,486.71 L268.42,484.93 L268.08,483.26 L268.08,484.67 L269.62,481.33 L269.16,481.15 L271.07,478.87 Z" fill="#000" fill-opacity="0.25"/><path d="M218,484 L219.74,484.05 L221.43,484.09 L222,486 L223.06,487.97 L224.84,486.99 L226,489 L226.75,489.47 L230.07,490.98 L230,492 L230.68,494.19 L232.24,495.27 L232,497 L231.17,498.18 L230.04,499.5 L229,503 L225.33,503.92 L220.19,503.2 L217,504 L215.46,500.73 L215.74,499.34 L214,498 L213.17,494.92 L215.17,492.13 L215,490 L216.25,487.89 L216.89,486.06 Z" fill="#000" fill-opacity="0.38"/><path d="M219.82,487.87 L221.71,489.38 L222.2,488.79 L222.22,489.07 L222.61,488.9 L225.55,491.18 L224.62,490.87 L225.28,491.91 L226.54,493.49 L227.02,492.67 L228.77,491.66 L228.8,494.4 L228.22,495.67 L227.64,495.88 L226.52,497.69 L226.42,499.27 L224.55,498.75 L220.09,499.54 L219.22,499.87 L218.2,498.19 L218.3,495.98 L217.42,496.27 L215.85,494.78 L218.2,493.91 L218.02,491.47 L218.83,491.44 L218.67,490.59 Z" fill="#000" fill-opacity="0.25"/><path d="M244,497 L246.63,496.22 L246.62,494.39 L248,494 L249.86,492.86 L251.66,493.68 L253,492 L255.2,490.82 L255.22,493.06 L258,492 L259.14,494.47 L261.21,494.69 L260,496 L259.1,496.92 L258.76,498.2 L257,501 L254.26,500.96 L250.89,501.69 L250,503 L248.97,503.72 L247.54,502.28 L245,502 L245.41,500.21 L245.05,498.23 Z" fill="#000" fill-opacity="0.38"/><path d="M247.15,497.05 L247.17,496.25 L249.6,497.51 L249.55,495.25 L251.33,492.75 L251.92,494.06 L252.55,494.05 L253.13,494.12 L254.45,494.72 L255.55,494.05 L256.6,494.62 L255.86,497.2 L256.75,496.45 L256.29,496.28 L256.15,500.27 L254.95,499.45 L254.6,501.6 L251.69,500.31 L250.75,500.65 L251.97,500.11 L247.18,501.6 L247.75,500.05 L246.99,500.82 L248.63,497 Z" fill="#000" fill-opacity="0.25"/><path d="M244,458 c-1,6 -2,13 -3,20" fill="none" stroke="#000" stroke-opacity="0.5" stroke-width="1.3" stroke-linecap="round"/><path d="M271,472.5 c2,3 4,7 6.5,11" fill="none" stroke="#000" stroke-opacity="0.5" stroke-width="1.3" stroke-linecap="round"/><path d="M221.5,486 c3,2 6,5 8.5,7.5" fill="none" stroke="#000" stroke-opacity="0.5" stroke-width="1.3" stroke-linecap="round"/></g>
<g filter="url(#bl)"><circle cx="247.3" cy="467.6" r="2.3" fill="#151515" fill-opacity="1"/><circle cx="247.3" cy="467.6" r="3.5" fill="#555" fill-opacity="0.6" filter="url(#bl2)"/><circle cx="283" cy="458" r="6" fill="#b8b8b8" fill-opacity="0.5" filter="url(#bl2)"/><circle cx="222" cy="462" r="5" fill="#777" fill-opacity="0.4" filter="url(#bl2)"/><path d="M242.5,458 L243,457.63 L244.5,457 L243.47,462.63 L243,468 L242.67,472.82 L241.5,478 L241.25,478.28 L240.5,478 L240.78,473.08 L241.5,468 L241.9,463.1 Z" fill="#2a2a2a" fill-opacity="0.75"/><path d="M271,472.5 c2,3 4,7 6.5,11 l-1.2,0.6 c-2,-4 -4,-7 -6,-11 z" fill="#2a2a2a" fill-opacity="0.8"/><path d="M221.5,486 c3,2 6,5 8.5,7.5 l-1,1 c-3,-2 -6,-5 -8,-7.5 z" fill="#2a2a2a" fill-opacity="0.8"/><path d="M226.33,466.66 L228.93,465.23 L230.08,464.41 L232.65,464.13 L233.83,463.66 L236.39,462.99 L237.58,462.16 L238.72,459.08 L240.58,459.91 L240.28,457.23 L242.83,458.78 L245.98,460.15 L243.58,460.66 L242.02,461.83 L242.08,464.41 L242.43,466.76 L241.33,469.66 L240.84,473.52 L240.58,474.91 L239.31,477.31 L239.08,480.16 L237.32,482.2 L236.08,481.66 L235.74,479.78 L233.08,477.91 L232.54,475.43 L230.08,474.16 L229.24,472.61 L227.83,470.41 L227.72,465.57 Z" fill="#e6e6e6" fill-opacity="0.35"/><path d="M270.89,475.2 L271.95,475.79 L273.14,478.2 L274.73,479.81 L276.14,481.2 L278.85,483.34 L279.14,484.2 L280.52,486.01 L280.64,487.2 L281.61,488.07 L279.14,490.2 L277.59,489.94 L275.39,491.7 L274.76,490.37 L270.89,490.95 L270.67,487.43 L267.89,488.7 L268.53,485.28 L267.14,484.95 L268.16,483.47 L268.64,480.45 L269.66,476.83 Z" fill="#e6e6e6" fill-opacity="0.35"/><path d="M219.14,486.42 L218.66,486.42 L222.14,487.92 L222.85,490.1 L225.14,490.17 L226.11,490.97 L228.14,492.42 L228.04,493.56 L229.64,496.17 L228.73,499.5 L227.39,500.67 L222.47,499.91 L218.39,501.42 L216.05,498.21 L216.14,496.92 L217.28,495.03 L216.89,490.92 L216.24,488.1 Z" fill="#e6e6e6" fill-opacity="0.35"/><path d="M245.97,497.03 L246.1,495.34 L248.97,494.78 L250.6,495.25 L252.72,493.28 L255.61,492.51 L256.47,493.28 L257.28,493.3 L257.97,496.28 L257.67,498.41 L255.72,500.03 L253.17,500.91 L250.47,501.53 L248.85,501.04 L246.72,500.78 L246.78,499.88 Z" fill="#e6e6e6" fill-opacity="0.35"/><circle cx="252" cy="496.5" r="2" fill="#151515" fill-opacity="1"/></g></g>
<rect x="212.2" y="451.1" width="80.3" height="53.6" fill="none" stroke="#2a2a2a" stroke-width="1.2"/>
<g clip-path="url(#c4)"><g filter="url(#dc4)"><rect x="299.1" y="451.7" width="80.8" height="53" fill="#000" fill-opacity="0.02"/><path d="M306,468 c3,-3 8,-4 12,-5 c3,-3 5,-6 7,-4 c3,-2 6,-4 8,-4 c-1,3 -4,6 -6,8 c1,3 1,6 -1,8 c-4,1 -9,0 -13,-1 c-3,0 -6,0 -7,-2 z" fill="#000" fill-opacity="0.6"/><path d="M352,468 c5,-3 10,-6 14,-9 c3,-2 5,-4 7,-6 c0,3 -2,6 -4,9 c-3,4 -7,7 -11,8 c-3,0 -5,0 -6,-2 z" fill="#000" fill-opacity="0.6"/><path d="M337,492 c0,-4 2,-8 4,-11 c1,3 1,7 -1,11 c-1,1 -2,1 -3,0 z" fill="#000" fill-opacity="0.6"/><path d="M316,503 c2,-4 5,-8 9,-10 c2,1 2,4 1,7 c-2,2 -6,3 -10,3 z" fill="#000" fill-opacity="0.6"/></g>
<g filter="url(#bl)"><circle cx="305.2" cy="459.7" r="2.5" fill="#555" fill-opacity="0.6" filter="url(#bl2)"/><circle cx="330.5" cy="492.7" r="3" fill="#555" fill-opacity="0.6" filter="url(#bl2)"/><path d="M308,468 c3,-2 8,-3 11,-4 c3,-2 5,-5 6,-4 c3,-2 5,-3 7,-3 c-1,2 -3,4 -5,6 c1,2 1,5 -1,7 c-4,1 -8,0 -12,-1 c-2,0 -5,0 -6,-1 z" fill="#f4f4f4" fill-opacity="0.9"/><path d="M309,466 c4,-2 9,-3 14,-4 l3,-3 c-1,3 -3,5 -5,6 c-4,1 -8,2 -12,2 z" fill="#151515" fill-opacity="1"/><path d="M327,470 c1,2 2,5 1,8 c-2,1 -3,0 -3,-2 c0,-2 1,-4 2,-6 z" fill="#e8e8e8" fill-opacity="1"/><path d="M353,468 c5,-3 9,-5 13,-8 c3,-2 4,-4 6,-5 c0,3 -2,5 -4,8 c-3,3 -6,6 -10,7 c-3,0 -4,0 -5,-2 z" fill="#f4f4f4" fill-opacity="0.9"/><path d="M356,465 c4,-2 8,-5 12,-8 l1,1 c-3,3 -7,6 -11,8 z" fill="#151515" fill-opacity="1"/><path d="M337.5,491 c0,-3 1.5,-7 3.5,-9.5 c0.5,3 0.5,6 -1,9 c-1,1 -2,1 -2.5,0.5 z" fill="#f4f4f4" fill-opacity="1"/><path d="M338,490 c0,-2 1,-5 2.5,-7 l0.6,0.6 c-1,2 -1.5,4 -2.3,6.6 z" fill="#151515" fill-opacity="1"/><path d="M317,502 c2,-3 5,-7 8,-8 c1,1 1,3 0,6 c-2,1 -5,2 -8,2 z" fill="#f4f4f4" fill-opacity="1"/><path d="M317,501 c2,-3 4,-6 7,-8 l0.5,0.8 c-2,2 -4,5 -6,8 z" fill="#151515" fill-opacity="1"/><path d="M312,463 L306,458" fill="none" stroke="#e8e8e8" stroke-width="0.7" stroke-opacity="1" stroke-linecap="round"/><path d="M318,462 L316,455" fill="none" stroke="#e0e0e0" stroke-width="0.7" stroke-opacity="1" stroke-linecap="round"/><path d="M330,462 L336,456" fill="none" stroke="#e8e8e8" stroke-width="0.8" stroke-opacity="1" stroke-linecap="round"/><path d="M306,468 L301,470" fill="none" stroke="#e8e8e8" stroke-width="0.8" stroke-opacity="1" stroke-linecap="round"/><path d="M326,470 C328,473 329,476 327,479" fill="none" stroke="#f0f0f0" stroke-width="1.0" stroke-opacity="1" stroke-linecap="round"/><path d="M327,479 C325,480 324,478 325,476" fill="none" stroke="#222" stroke-width="0.6" stroke-opacity="1" stroke-linecap="round"/><path d="M364,462 L360,456" fill="none" stroke="#e0e0e0" stroke-width="0.6" stroke-opacity="1" stroke-linecap="round"/><path d="M370,458 L373,450" fill="none" stroke="#e8e8e8" stroke-width="0.7" stroke-opacity="1" stroke-linecap="round"/><path d="M358,467 L365,470" fill="none" stroke="#e8e8e8" stroke-width="0.7" stroke-opacity="1" stroke-linecap="round"/><path d="M314,464 L309,466" fill="none" stroke="#1a1a1a" stroke-width="0.8" stroke-opacity="1" stroke-linecap="round"/><path d="M361,463 L356,467" fill="none" stroke="#1a1a1a" stroke-width="0.8" stroke-opacity="1" stroke-linecap="round"/></g></g>
<rect x="299.1" y="451.7" width="80.8" height="53" fill="none" stroke="#2a2a2a" stroke-width="1.2"/>
<text x="396.9" y="384.2" font-size="13" font-weight="bold" textLength="10.6" lengthAdjust="spacingAndGlyphs">ii)</text>
<polyline points="426.2,385 426.2,469.1" fill="none" stroke="#111" stroke-width="1.2" stroke-linejoin="round" stroke-linecap="round"/>
<line x1="423.4" y1="469.1" x2="426.2" y2="469.1" stroke="#111" stroke-width="1.1"/>
<text x="423" y="471.3" font-size="6.2" font-weight="bold" text-anchor="end" textLength="6.6" lengthAdjust="spacingAndGlyphs">10</text>
<line x1="423.4" y1="452.92" x2="426.2" y2="452.92" stroke="#111" stroke-width="1.1"/>
<text x="423" y="455.12" font-size="6.2" font-weight="bold" text-anchor="end" textLength="6.6" lengthAdjust="spacingAndGlyphs">15</text>
<line x1="423.4" y1="436.74" x2="426.2" y2="436.74" stroke="#111" stroke-width="1.1"/>
<text x="423" y="438.94" font-size="6.2" font-weight="bold" text-anchor="end" textLength="6.6" lengthAdjust="spacingAndGlyphs">20</text>
<line x1="423.4" y1="420.56" x2="426.2" y2="420.56" stroke="#111" stroke-width="1.1"/>
<text x="423" y="422.76" font-size="6.2" font-weight="bold" text-anchor="end" textLength="6.6" lengthAdjust="spacingAndGlyphs">25</text>
<line x1="423.4" y1="404.38" x2="426.2" y2="404.38" stroke="#111" stroke-width="1.1"/>
<text x="423" y="406.58" font-size="6.2" font-weight="bold" text-anchor="end" textLength="6.6" lengthAdjust="spacingAndGlyphs">30</text>
<line x1="423.4" y1="388.2" x2="426.2" y2="388.2" stroke="#111" stroke-width="1.1"/>
<text x="423" y="390.4" font-size="6.2" font-weight="bold" text-anchor="end" textLength="6.6" lengthAdjust="spacingAndGlyphs">35</text>
<text x="411.2" y="427" font-size="6.0" font-weight="bold" text-anchor="middle" textLength="62" lengthAdjust="spacingAndGlyphs" transform="rotate(-90 411.2 427)">Surface area (µm<tspan font-size="4" dy="-2">2</tspan><tspan dy="2">)</tspan></text>
<polyline points="425.6,469.1 499.4,469.1" fill="none" stroke="#111" stroke-width="1.3" stroke-linejoin="round" stroke-linecap="round"/>
<line x1="434.8" y1="399.3" x2="434.8" y2="407.3" stroke="#111" stroke-width="1.0"/>
<line x1="432.2" y1="399.3" x2="437.4" y2="399.3" stroke="#111" stroke-width="1.0"/>
<rect x="429.6" y="407.9" width="9.4" height="61.2" fill="#fff" stroke="#111" stroke-width="1.2"/>
<line x1="450.1" y1="445.9" x2="450.1" y2="458.6" stroke="#111" stroke-width="1.0"/>
<line x1="446.5" y1="445.9" x2="453.7" y2="445.9" stroke="#111" stroke-width="1.0"/>
<rect x="444.4" y="458.6" width="11.7" height="10.5" fill="#111"/>
<line x1="475.1" y1="388" x2="475.1" y2="399.1" stroke="#111" stroke-width="1.0"/>
<line x1="472.3" y1="388" x2="477.9" y2="388" stroke="#111" stroke-width="1.0"/>
<rect x="470.1" y="399.7" width="9.9" height="69.4" fill="#fff" stroke="#111" stroke-width="1.2"/>
<line x1="491" y1="433" x2="491" y2="438.6" stroke="#111" stroke-width="1.0"/>
<line x1="488.8" y1="433" x2="493.2" y2="433" stroke="#111" stroke-width="1.0"/>
<rect x="485.2" y="438.6" width="11.4" height="30.5" fill="#111"/>
<text x="444.1" y="395.6" font-size="9" font-weight="bold" text-anchor="middle" textLength="13.2" lengthAdjust="spacingAndGlyphs">***</text>
<text x="484.8" y="388.4" font-size="9" font-weight="bold" text-anchor="middle" textLength="8.2" lengthAdjust="spacingAndGlyphs">**</text>
<text x="441.8" y="478.2" font-size="7.2" font-weight="bold" text-anchor="middle" textLength="12.7" lengthAdjust="spacingAndGlyphs">Coll</text>
<text x="483.8" y="478.2" font-size="7.2" font-weight="bold" text-anchor="middle" textLength="16.2" lengthAdjust="spacingAndGlyphs">mAb</text>
<rect x="429.2" y="484.8" width="11.6" height="4.4" fill="#fff" stroke="#111" stroke-width="1.25"/>
<text x="441.3" y="490" font-size="8" font-weight="bold" textLength="12.5" lengthAdjust="spacingAndGlyphs">WT</text>
<rect x="464.5" y="484.2" width="14" height="5.4" fill="#111"/>
<text x="478.3" y="490" font-size="8" font-weight="bold" textLength="18" lengthAdjust="spacingAndGlyphs">R41A</text>
</svg>
</body></html>
